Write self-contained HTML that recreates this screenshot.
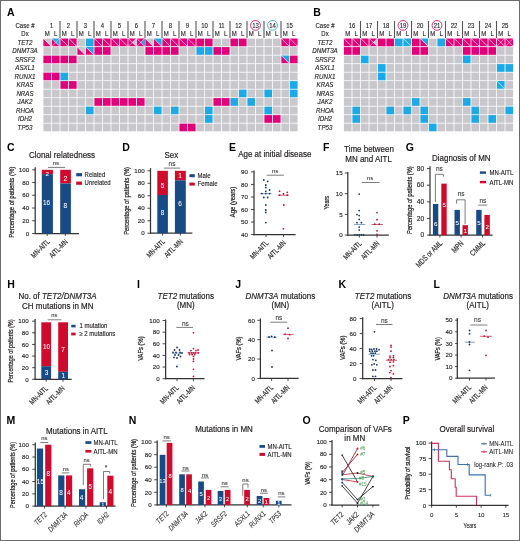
<!DOCTYPE html>
<html><head><meta charset="utf-8"><style>
html,body{margin:0;padding:0;background:#fff;}
svg{display:block;will-change:transform;}
text{font-family:"Liberation Sans",sans-serif;}
</style></head><body>
<svg width="520" height="541" viewBox="0 0 520 541">
<rect x="0" y="0" width="520" height="541" fill="#fff"/>
<g fill="#231f20">
<text transform="translate(7.00,15.60)" font-size="10.500" text-anchor="start" font-weight="bold" fill="#000">A</text>
<text transform="translate(25.00,27.70) scale(0.8696,1)" font-size="6.900" text-anchor="middle" stroke="#231f20" stroke-width="0.14">Case #</text>
<text transform="translate(25.00,36.30) scale(0.8696,1)" font-size="6.900" text-anchor="middle" stroke="#231f20" stroke-width="0.14">Dx</text>
<text transform="translate(25.00,44.80) scale(0.8696,1)" font-size="7.130" text-anchor="middle" font-style="italic" stroke="#231f20" stroke-width="0.14">TET2</text>
<text transform="translate(25.00,53.30) scale(0.8696,1)" font-size="7.130" text-anchor="middle" font-style="italic" stroke="#231f20" stroke-width="0.14">DNMT3A</text>
<text transform="translate(25.00,61.80) scale(0.8696,1)" font-size="7.130" text-anchor="middle" font-style="italic" stroke="#231f20" stroke-width="0.14">SRSF2</text>
<text transform="translate(25.00,70.30) scale(0.8696,1)" font-size="7.130" text-anchor="middle" font-style="italic" stroke="#231f20" stroke-width="0.14">ASXL1</text>
<text transform="translate(25.00,78.80) scale(0.8696,1)" font-size="7.130" text-anchor="middle" font-style="italic" stroke="#231f20" stroke-width="0.14">RUNX1</text>
<text transform="translate(25.00,87.30) scale(0.8696,1)" font-size="7.130" text-anchor="middle" font-style="italic" stroke="#231f20" stroke-width="0.14">KRAS</text>
<text transform="translate(25.00,95.80) scale(0.8696,1)" font-size="7.130" text-anchor="middle" font-style="italic" stroke="#231f20" stroke-width="0.14">NRAS</text>
<text transform="translate(25.00,104.30) scale(0.8696,1)" font-size="7.130" text-anchor="middle" font-style="italic" stroke="#231f20" stroke-width="0.14">JAK2</text>
<text transform="translate(25.00,112.80) scale(0.8696,1)" font-size="7.130" text-anchor="middle" font-style="italic" stroke="#231f20" stroke-width="0.14">RHOA</text>
<text transform="translate(25.00,121.30) scale(0.8696,1)" font-size="7.130" text-anchor="middle" font-style="italic" stroke="#231f20" stroke-width="0.14">IDH2</text>
<text transform="translate(25.00,129.80) scale(0.8696,1)" font-size="7.130" text-anchor="middle" font-style="italic" stroke="#231f20" stroke-width="0.14">TP53</text>
<text transform="translate(51.50,27.80) scale(0.8333,1)" font-size="7.200" text-anchor="middle" stroke="#231f20" stroke-width="0.14">1</text>
<text transform="translate(47.25,36.30) scale(0.9091,1)" font-size="6.600" text-anchor="middle" stroke="#231f20" stroke-width="0.14">M</text>
<text transform="translate(55.75,36.30) scale(0.9091,1)" font-size="6.600" text-anchor="middle" stroke="#231f20" stroke-width="0.14">L</text>
<line x1="60.00" y1="21.00" x2="60.00" y2="38.00" stroke="#555" stroke-width="1.1"/>
<text transform="translate(68.50,27.80) scale(0.8333,1)" font-size="7.200" text-anchor="middle" stroke="#231f20" stroke-width="0.14">2</text>
<text transform="translate(64.25,36.30) scale(0.9091,1)" font-size="6.600" text-anchor="middle" stroke="#231f20" stroke-width="0.14">M</text>
<text transform="translate(72.75,36.30) scale(0.9091,1)" font-size="6.600" text-anchor="middle" stroke="#231f20" stroke-width="0.14">L</text>
<line x1="77.00" y1="21.00" x2="77.00" y2="38.00" stroke="#555" stroke-width="1.1"/>
<text transform="translate(85.50,27.80) scale(0.8333,1)" font-size="7.200" text-anchor="middle" stroke="#231f20" stroke-width="0.14">3</text>
<text transform="translate(81.25,36.30) scale(0.9091,1)" font-size="6.600" text-anchor="middle" stroke="#231f20" stroke-width="0.14">M</text>
<text transform="translate(89.75,36.30) scale(0.9091,1)" font-size="6.600" text-anchor="middle" stroke="#231f20" stroke-width="0.14">L</text>
<line x1="94.00" y1="21.00" x2="94.00" y2="38.00" stroke="#555" stroke-width="1.1"/>
<text transform="translate(102.50,27.80) scale(0.8333,1)" font-size="7.200" text-anchor="middle" stroke="#231f20" stroke-width="0.14">4</text>
<text transform="translate(98.25,36.30) scale(0.9091,1)" font-size="6.600" text-anchor="middle" stroke="#231f20" stroke-width="0.14">M</text>
<text transform="translate(106.75,36.30) scale(0.9091,1)" font-size="6.600" text-anchor="middle" stroke="#231f20" stroke-width="0.14">L</text>
<line x1="111.00" y1="21.00" x2="111.00" y2="38.00" stroke="#555" stroke-width="1.1"/>
<text transform="translate(119.50,27.80) scale(0.8333,1)" font-size="7.200" text-anchor="middle" stroke="#231f20" stroke-width="0.14">5</text>
<text transform="translate(115.25,36.30) scale(0.9091,1)" font-size="6.600" text-anchor="middle" stroke="#231f20" stroke-width="0.14">M</text>
<text transform="translate(123.75,36.30) scale(0.9091,1)" font-size="6.600" text-anchor="middle" stroke="#231f20" stroke-width="0.14">L</text>
<line x1="128.00" y1="21.00" x2="128.00" y2="38.00" stroke="#555" stroke-width="1.1"/>
<text transform="translate(136.50,27.80) scale(0.8333,1)" font-size="7.200" text-anchor="middle" stroke="#231f20" stroke-width="0.14">6</text>
<text transform="translate(132.25,36.30) scale(0.9091,1)" font-size="6.600" text-anchor="middle" stroke="#231f20" stroke-width="0.14">M</text>
<text transform="translate(140.75,36.30) scale(0.9091,1)" font-size="6.600" text-anchor="middle" stroke="#231f20" stroke-width="0.14">L</text>
<line x1="145.00" y1="21.00" x2="145.00" y2="38.00" stroke="#555" stroke-width="1.1"/>
<text transform="translate(153.50,27.80) scale(0.8333,1)" font-size="7.200" text-anchor="middle" stroke="#231f20" stroke-width="0.14">7</text>
<text transform="translate(149.25,36.30) scale(0.9091,1)" font-size="6.600" text-anchor="middle" stroke="#231f20" stroke-width="0.14">M</text>
<text transform="translate(157.75,36.30) scale(0.9091,1)" font-size="6.600" text-anchor="middle" stroke="#231f20" stroke-width="0.14">L</text>
<line x1="162.00" y1="21.00" x2="162.00" y2="38.00" stroke="#555" stroke-width="1.1"/>
<text transform="translate(170.50,27.80) scale(0.8333,1)" font-size="7.200" text-anchor="middle" stroke="#231f20" stroke-width="0.14">8</text>
<text transform="translate(166.25,36.30) scale(0.9091,1)" font-size="6.600" text-anchor="middle" stroke="#231f20" stroke-width="0.14">M</text>
<text transform="translate(174.75,36.30) scale(0.9091,1)" font-size="6.600" text-anchor="middle" stroke="#231f20" stroke-width="0.14">L</text>
<line x1="179.00" y1="21.00" x2="179.00" y2="38.00" stroke="#555" stroke-width="1.1"/>
<text transform="translate(187.50,27.80) scale(0.8333,1)" font-size="7.200" text-anchor="middle" stroke="#231f20" stroke-width="0.14">9</text>
<text transform="translate(183.25,36.30) scale(0.9091,1)" font-size="6.600" text-anchor="middle" stroke="#231f20" stroke-width="0.14">M</text>
<text transform="translate(191.75,36.30) scale(0.9091,1)" font-size="6.600" text-anchor="middle" stroke="#231f20" stroke-width="0.14">L</text>
<line x1="196.00" y1="21.00" x2="196.00" y2="38.00" stroke="#555" stroke-width="1.1"/>
<text transform="translate(204.50,27.80) scale(0.8333,1)" font-size="7.200" text-anchor="middle" stroke="#231f20" stroke-width="0.14">10</text>
<text transform="translate(200.25,36.30) scale(0.9091,1)" font-size="6.600" text-anchor="middle" stroke="#231f20" stroke-width="0.14">M</text>
<text transform="translate(208.75,36.30) scale(0.9091,1)" font-size="6.600" text-anchor="middle" stroke="#231f20" stroke-width="0.14">L</text>
<line x1="213.00" y1="21.00" x2="213.00" y2="38.00" stroke="#555" stroke-width="1.1"/>
<text transform="translate(221.50,27.80) scale(0.8333,1)" font-size="7.200" text-anchor="middle" stroke="#231f20" stroke-width="0.14">11</text>
<text transform="translate(217.25,36.30) scale(0.9091,1)" font-size="6.600" text-anchor="middle" stroke="#231f20" stroke-width="0.14">M</text>
<text transform="translate(225.75,36.30) scale(0.9091,1)" font-size="6.600" text-anchor="middle" stroke="#231f20" stroke-width="0.14">L</text>
<line x1="230.00" y1="21.00" x2="230.00" y2="38.00" stroke="#555" stroke-width="1.1"/>
<text transform="translate(238.50,27.80) scale(0.8333,1)" font-size="7.200" text-anchor="middle" stroke="#231f20" stroke-width="0.14">12</text>
<text transform="translate(234.25,36.30) scale(0.9091,1)" font-size="6.600" text-anchor="middle" stroke="#231f20" stroke-width="0.14">M</text>
<text transform="translate(242.75,36.30) scale(0.9091,1)" font-size="6.600" text-anchor="middle" stroke="#231f20" stroke-width="0.14">L</text>
<line x1="247.00" y1="21.00" x2="247.00" y2="38.00" stroke="#555" stroke-width="1.1"/>
<circle cx="255.50" cy="25.4" r="4.9" fill="none" stroke="#d6186a" stroke-width="0.9"/>
<text transform="translate(255.50,27.80) scale(0.8333,1)" font-size="7.200" text-anchor="middle" stroke="#231f20" stroke-width="0.14">13</text>
<text transform="translate(251.25,36.30) scale(0.9091,1)" font-size="6.600" text-anchor="middle" stroke="#231f20" stroke-width="0.14">M</text>
<text transform="translate(259.75,36.30) scale(0.9091,1)" font-size="6.600" text-anchor="middle" stroke="#231f20" stroke-width="0.14">L</text>
<line x1="264.00" y1="21.00" x2="264.00" y2="38.00" stroke="#555" stroke-width="1.1"/>
<circle cx="272.50" cy="25.4" r="4.9" fill="none" stroke="#3aa9c9" stroke-width="0.9"/>
<text transform="translate(272.50,27.80) scale(0.8333,1)" font-size="7.200" text-anchor="middle" stroke="#231f20" stroke-width="0.14">14</text>
<text transform="translate(268.25,36.30) scale(0.9091,1)" font-size="6.600" text-anchor="middle" stroke="#231f20" stroke-width="0.14">M</text>
<text transform="translate(276.75,36.30) scale(0.9091,1)" font-size="6.600" text-anchor="middle" stroke="#231f20" stroke-width="0.14">L</text>
<line x1="281.00" y1="21.00" x2="281.00" y2="38.00" stroke="#555" stroke-width="1.1"/>
<text transform="translate(289.50,27.80) scale(0.8333,1)" font-size="7.200" text-anchor="middle" stroke="#231f20" stroke-width="0.14">15</text>
<text transform="translate(285.25,36.30) scale(0.9091,1)" font-size="6.600" text-anchor="middle" stroke="#231f20" stroke-width="0.14">M</text>
<text transform="translate(293.75,36.30) scale(0.9091,1)" font-size="6.600" text-anchor="middle" stroke="#231f20" stroke-width="0.14">L</text>
<polygon points="43.40,38.60 43.40,46.30 51.10,46.30" fill="#e0007a"/>
<polygon points="43.40,38.60 51.10,38.60 51.10,46.30" fill="#c8c8cc"/>
<line x1="43.40" y1="38.60" x2="51.10" y2="46.30" stroke="#fff" stroke-width="0.6" opacity="0.85"/>
<polygon points="51.90,38.60 51.90,46.30 59.60,46.30" fill="#e0007a"/>
<polygon points="51.90,38.60 59.60,38.60 59.60,46.30" fill="#1ca9e6"/>
<line x1="51.90" y1="38.60" x2="59.60" y2="46.30" stroke="#fff" stroke-width="0.6" opacity="0.85"/>
<line x1="51.90" y1="46.30" x2="59.60" y2="38.60" stroke="#fff" stroke-width="0.6" opacity="0.85"/>
<polygon points="60.40,38.60 60.40,46.30 68.10,46.30" fill="#e0007a"/>
<polygon points="60.40,38.60 68.10,38.60 68.10,46.30" fill="#e0007a"/>
<line x1="60.40" y1="38.60" x2="68.10" y2="46.30" stroke="#fff" stroke-width="0.6" opacity="0.85"/>
<polygon points="68.90,38.60 68.90,46.30 76.60,46.30" fill="#e0007a"/>
<polygon points="68.90,38.60 76.60,38.60 76.60,46.30" fill="#e0007a"/>
<line x1="68.90" y1="38.60" x2="76.60" y2="46.30" stroke="#fff" stroke-width="0.6" opacity="0.85"/>
<rect x="77.40" y="38.60" width="7.70" height="7.70" fill="#c8c8cc"/>
<rect x="85.90" y="38.60" width="7.70" height="7.70" fill="#1ca9e6"/>
<polygon points="94.40,38.60 94.40,46.30 102.10,46.30" fill="#e0007a"/>
<polygon points="94.40,38.60 102.10,38.60 102.10,46.30" fill="#e0007a"/>
<line x1="94.40" y1="38.60" x2="102.10" y2="46.30" stroke="#fff" stroke-width="0.6" opacity="0.85"/>
<polygon points="102.90,38.60 102.90,46.30 110.60,46.30" fill="#e0007a"/>
<polygon points="102.90,38.60 110.60,38.60 110.60,46.30" fill="#e0007a"/>
<line x1="102.90" y1="38.60" x2="110.60" y2="46.30" stroke="#fff" stroke-width="0.6" opacity="0.85"/>
<polygon points="111.40,38.60 111.40,46.30 119.10,46.30" fill="#e0007a"/>
<polygon points="111.40,38.60 119.10,38.60 119.10,46.30" fill="#e0007a"/>
<line x1="111.40" y1="38.60" x2="119.10" y2="46.30" stroke="#fff" stroke-width="0.6" opacity="0.85"/>
<polygon points="119.90,38.60 119.90,46.30 127.60,46.30" fill="#e0007a"/>
<polygon points="119.90,38.60 127.60,38.60 127.60,46.30" fill="#e0007a"/>
<line x1="119.90" y1="38.60" x2="127.60" y2="46.30" stroke="#fff" stroke-width="0.6" opacity="0.85"/>
<polygon points="128.40,38.60 128.40,46.30 136.10,46.30" fill="#e0007a"/>
<polygon points="128.40,38.60 136.10,38.60 136.10,46.30" fill="#e0007a"/>
<polygon points="136.10,38.60 136.10,46.30 132.25,42.45" fill="#c8c8cc"/>
<line x1="128.40" y1="38.60" x2="136.10" y2="46.30" stroke="#fff" stroke-width="0.6" opacity="0.85"/>
<line x1="128.40" y1="46.30" x2="136.10" y2="38.60" stroke="#fff" stroke-width="0.6" opacity="0.85"/>
<polygon points="136.90,38.60 136.90,46.30 144.60,46.30" fill="#e0007a"/>
<polygon points="136.90,38.60 144.60,38.60 144.60,46.30" fill="#e0007a"/>
<polygon points="144.60,38.60 144.60,46.30 140.75,42.45" fill="#1ca9e6"/>
<line x1="136.90" y1="38.60" x2="144.60" y2="46.30" stroke="#fff" stroke-width="0.6" opacity="0.85"/>
<line x1="136.90" y1="46.30" x2="144.60" y2="38.60" stroke="#fff" stroke-width="0.6" opacity="0.85"/>
<polygon points="145.40,38.60 145.40,46.30 153.10,46.30" fill="#e0007a"/>
<polygon points="145.40,38.60 153.10,38.60 153.10,46.30" fill="#c8c8cc"/>
<line x1="145.40" y1="38.60" x2="153.10" y2="46.30" stroke="#fff" stroke-width="0.6" opacity="0.85"/>
<polygon points="153.90,38.60 153.90,46.30 161.60,46.30" fill="#e0007a"/>
<polygon points="153.90,38.60 161.60,38.60 161.60,46.30" fill="#1ca9e6"/>
<line x1="153.90" y1="38.60" x2="161.60" y2="46.30" stroke="#fff" stroke-width="0.6" opacity="0.85"/>
<polygon points="162.40,38.60 162.40,46.30 170.10,46.30" fill="#e0007a"/>
<polygon points="162.40,38.60 170.10,38.60 170.10,46.30" fill="#e0007a"/>
<line x1="162.40" y1="38.60" x2="170.10" y2="46.30" stroke="#fff" stroke-width="0.6" opacity="0.85"/>
<polygon points="170.90,38.60 170.90,46.30 178.60,46.30" fill="#e0007a"/>
<polygon points="170.90,38.60 178.60,38.60 178.60,46.30" fill="#e0007a"/>
<line x1="170.90" y1="38.60" x2="178.60" y2="46.30" stroke="#fff" stroke-width="0.6" opacity="0.85"/>
<polygon points="179.40,38.60 179.40,46.30 187.10,46.30" fill="#e0007a"/>
<polygon points="179.40,38.60 187.10,38.60 187.10,46.30" fill="#e0007a"/>
<line x1="179.40" y1="38.60" x2="187.10" y2="46.30" stroke="#fff" stroke-width="0.6" opacity="0.85"/>
<polygon points="187.90,38.60 187.90,46.30 195.60,46.30" fill="#e0007a"/>
<polygon points="187.90,38.60 195.60,38.60 195.60,46.30" fill="#e0007a"/>
<line x1="187.90" y1="38.60" x2="195.60" y2="46.30" stroke="#fff" stroke-width="0.6" opacity="0.85"/>
<rect x="196.40" y="38.60" width="7.70" height="7.70" fill="#e0007a"/>
<rect x="204.90" y="38.60" width="7.70" height="7.70" fill="#e0007a"/>
<rect x="213.40" y="38.60" width="7.70" height="7.70" fill="#c8c8cc"/>
<rect x="221.90" y="38.60" width="7.70" height="7.70" fill="#c8c8cc"/>
<rect x="230.40" y="38.60" width="7.70" height="7.70" fill="#e0007a"/>
<rect x="238.90" y="38.60" width="7.70" height="7.70" fill="#e0007a"/>
<rect x="247.40" y="38.60" width="7.70" height="7.70" fill="#c8c8cc"/>
<rect x="255.90" y="38.60" width="7.70" height="7.70" fill="#c8c8cc"/>
<rect x="264.40" y="38.60" width="7.70" height="7.70" fill="#c8c8cc"/>
<rect x="272.90" y="38.60" width="7.70" height="7.70" fill="#c8c8cc"/>
<polygon points="281.40,38.60 281.40,46.30 289.10,46.30" fill="#e0007a"/>
<polygon points="281.40,38.60 289.10,38.60 289.10,46.30" fill="#e0007a"/>
<line x1="281.40" y1="38.60" x2="289.10" y2="46.30" stroke="#fff" stroke-width="0.6" opacity="0.85"/>
<polygon points="289.90,38.60 289.90,46.30 297.60,46.30" fill="#e0007a"/>
<polygon points="289.90,38.60 297.60,38.60 297.60,46.30" fill="#e0007a"/>
<line x1="289.90" y1="38.60" x2="297.60" y2="46.30" stroke="#fff" stroke-width="0.6" opacity="0.85"/>
<rect x="43.40" y="47.10" width="7.70" height="7.70" fill="#c8c8cc"/>
<rect x="51.90" y="47.10" width="7.70" height="7.70" fill="#c8c8cc"/>
<rect x="60.40" y="47.10" width="7.70" height="7.70" fill="#c8c8cc"/>
<rect x="68.90" y="47.10" width="7.70" height="7.70" fill="#c8c8cc"/>
<polygon points="77.40,47.10 77.40,54.80 85.10,54.80" fill="#e0007a"/>
<polygon points="77.40,47.10 85.10,47.10 85.10,54.80" fill="#c8c8cc"/>
<line x1="77.40" y1="47.10" x2="85.10" y2="54.80" stroke="#fff" stroke-width="0.6" opacity="0.85"/>
<polygon points="85.90,47.10 85.90,54.80 93.60,54.80" fill="#e0007a"/>
<polygon points="85.90,47.10 93.60,47.10 93.60,54.80" fill="#1ca9e6"/>
<line x1="85.90" y1="47.10" x2="93.60" y2="54.80" stroke="#fff" stroke-width="0.6" opacity="0.85"/>
<rect x="94.40" y="47.10" width="7.70" height="7.70" fill="#e0007a"/>
<rect x="102.90" y="47.10" width="7.70" height="7.70" fill="#e0007a"/>
<rect x="111.40" y="47.10" width="7.70" height="7.70" fill="#c8c8cc"/>
<rect x="119.90" y="47.10" width="7.70" height="7.70" fill="#c8c8cc"/>
<rect x="128.40" y="47.10" width="7.70" height="7.70" fill="#c8c8cc"/>
<rect x="136.90" y="47.10" width="7.70" height="7.70" fill="#c8c8cc"/>
<rect x="145.40" y="47.10" width="7.70" height="7.70" fill="#e0007a"/>
<rect x="153.90" y="47.10" width="7.70" height="7.70" fill="#e0007a"/>
<rect x="162.40" y="47.10" width="7.70" height="7.70" fill="#e0007a"/>
<rect x="170.90" y="47.10" width="7.70" height="7.70" fill="#e0007a"/>
<rect x="179.40" y="47.10" width="7.70" height="7.70" fill="#c8c8cc"/>
<rect x="187.90" y="47.10" width="7.70" height="7.70" fill="#c8c8cc"/>
<rect x="196.40" y="47.10" width="7.70" height="7.70" fill="#1ca9e6"/>
<rect x="204.90" y="47.10" width="7.70" height="7.70" fill="#1ca9e6"/>
<rect x="213.40" y="47.10" width="7.70" height="7.70" fill="#e0007a"/>
<rect x="221.90" y="47.10" width="7.70" height="7.70" fill="#e0007a"/>
<rect x="230.40" y="47.10" width="7.70" height="7.70" fill="#c8c8cc"/>
<rect x="238.90" y="47.10" width="7.70" height="7.70" fill="#c8c8cc"/>
<rect x="247.40" y="47.10" width="7.70" height="7.70" fill="#c8c8cc"/>
<rect x="255.90" y="47.10" width="7.70" height="7.70" fill="#c8c8cc"/>
<rect x="264.40" y="47.10" width="7.70" height="7.70" fill="#c8c8cc"/>
<rect x="272.90" y="47.10" width="7.70" height="7.70" fill="#c8c8cc"/>
<rect x="281.40" y="47.10" width="7.70" height="7.70" fill="#c8c8cc"/>
<rect x="289.90" y="47.10" width="7.70" height="7.70" fill="#c8c8cc"/>
<rect x="43.40" y="55.60" width="7.70" height="7.70" fill="#e0007a"/>
<rect x="51.90" y="55.60" width="7.70" height="7.70" fill="#e0007a"/>
<rect x="60.40" y="55.60" width="7.70" height="7.70" fill="#e0007a"/>
<rect x="68.90" y="55.60" width="7.70" height="7.70" fill="#e0007a"/>
<rect x="77.40" y="55.60" width="7.70" height="7.70" fill="#c8c8cc"/>
<rect x="85.90" y="55.60" width="7.70" height="7.70" fill="#c8c8cc"/>
<rect x="94.40" y="55.60" width="7.70" height="7.70" fill="#c8c8cc"/>
<rect x="102.90" y="55.60" width="7.70" height="7.70" fill="#c8c8cc"/>
<rect x="111.40" y="55.60" width="7.70" height="7.70" fill="#c8c8cc"/>
<rect x="119.90" y="55.60" width="7.70" height="7.70" fill="#c8c8cc"/>
<rect x="128.40" y="55.60" width="7.70" height="7.70" fill="#c8c8cc"/>
<rect x="136.90" y="55.60" width="7.70" height="7.70" fill="#c8c8cc"/>
<rect x="145.40" y="55.60" width="7.70" height="7.70" fill="#c8c8cc"/>
<rect x="153.90" y="55.60" width="7.70" height="7.70" fill="#c8c8cc"/>
<rect x="162.40" y="55.60" width="7.70" height="7.70" fill="#c8c8cc"/>
<rect x="170.90" y="55.60" width="7.70" height="7.70" fill="#c8c8cc"/>
<rect x="179.40" y="55.60" width="7.70" height="7.70" fill="#c8c8cc"/>
<rect x="187.90" y="55.60" width="7.70" height="7.70" fill="#c8c8cc"/>
<rect x="196.40" y="55.60" width="7.70" height="7.70" fill="#c8c8cc"/>
<rect x="204.90" y="55.60" width="7.70" height="7.70" fill="#c8c8cc"/>
<rect x="213.40" y="55.60" width="7.70" height="7.70" fill="#c8c8cc"/>
<rect x="221.90" y="55.60" width="7.70" height="7.70" fill="#c8c8cc"/>
<rect x="230.40" y="55.60" width="7.70" height="7.70" fill="#c8c8cc"/>
<rect x="238.90" y="55.60" width="7.70" height="7.70" fill="#c8c8cc"/>
<rect x="247.40" y="55.60" width="7.70" height="7.70" fill="#c8c8cc"/>
<rect x="255.90" y="55.60" width="7.70" height="7.70" fill="#c8c8cc"/>
<rect x="264.40" y="55.60" width="7.70" height="7.70" fill="#c8c8cc"/>
<rect x="272.90" y="55.60" width="7.70" height="7.70" fill="#c8c8cc"/>
<polygon points="281.40,55.60 281.40,63.30 289.10,63.30" fill="#e0007a"/>
<polygon points="281.40,55.60 289.10,55.60 289.10,63.30" fill="#1ca9e6"/>
<line x1="281.40" y1="55.60" x2="289.10" y2="63.30" stroke="#fff" stroke-width="0.6" opacity="0.85"/>
<rect x="289.90" y="55.60" width="7.70" height="7.70" fill="#e0007a"/>
<rect x="43.40" y="64.10" width="7.70" height="7.70" fill="#c8c8cc"/>
<rect x="51.90" y="64.10" width="7.70" height="7.70" fill="#c8c8cc"/>
<rect x="60.40" y="64.10" width="7.70" height="7.70" fill="#c8c8cc"/>
<rect x="68.90" y="64.10" width="7.70" height="7.70" fill="#c8c8cc"/>
<rect x="77.40" y="64.10" width="7.70" height="7.70" fill="#c8c8cc"/>
<rect x="85.90" y="64.10" width="7.70" height="7.70" fill="#c8c8cc"/>
<rect x="94.40" y="64.10" width="7.70" height="7.70" fill="#c8c8cc"/>
<rect x="102.90" y="64.10" width="7.70" height="7.70" fill="#c8c8cc"/>
<rect x="111.40" y="64.10" width="7.70" height="7.70" fill="#c8c8cc"/>
<rect x="119.90" y="64.10" width="7.70" height="7.70" fill="#c8c8cc"/>
<rect x="128.40" y="64.10" width="7.70" height="7.70" fill="#c8c8cc"/>
<rect x="136.90" y="64.10" width="7.70" height="7.70" fill="#c8c8cc"/>
<rect x="145.40" y="64.10" width="7.70" height="7.70" fill="#c8c8cc"/>
<rect x="153.90" y="64.10" width="7.70" height="7.70" fill="#c8c8cc"/>
<rect x="162.40" y="64.10" width="7.70" height="7.70" fill="#c8c8cc"/>
<rect x="170.90" y="64.10" width="7.70" height="7.70" fill="#c8c8cc"/>
<rect x="179.40" y="64.10" width="7.70" height="7.70" fill="#c8c8cc"/>
<rect x="187.90" y="64.10" width="7.70" height="7.70" fill="#c8c8cc"/>
<rect x="196.40" y="64.10" width="7.70" height="7.70" fill="#c8c8cc"/>
<rect x="204.90" y="64.10" width="7.70" height="7.70" fill="#c8c8cc"/>
<rect x="213.40" y="64.10" width="7.70" height="7.70" fill="#c8c8cc"/>
<rect x="221.90" y="64.10" width="7.70" height="7.70" fill="#c8c8cc"/>
<rect x="230.40" y="64.10" width="7.70" height="7.70" fill="#c8c8cc"/>
<rect x="238.90" y="64.10" width="7.70" height="7.70" fill="#c8c8cc"/>
<rect x="247.40" y="64.10" width="7.70" height="7.70" fill="#c8c8cc"/>
<rect x="255.90" y="64.10" width="7.70" height="7.70" fill="#c8c8cc"/>
<rect x="264.40" y="64.10" width="7.70" height="7.70" fill="#c8c8cc"/>
<rect x="272.90" y="64.10" width="7.70" height="7.70" fill="#c8c8cc"/>
<rect x="281.40" y="64.10" width="7.70" height="7.70" fill="#c8c8cc"/>
<rect x="289.90" y="64.10" width="7.70" height="7.70" fill="#c8c8cc"/>
<rect x="43.40" y="72.60" width="7.70" height="7.70" fill="#e0007a"/>
<rect x="51.90" y="72.60" width="7.70" height="7.70" fill="#e0007a"/>
<rect x="60.40" y="72.60" width="7.70" height="7.70" fill="#1ca9e6"/>
<rect x="68.90" y="72.60" width="7.70" height="7.70" fill="#c8c8cc"/>
<rect x="77.40" y="72.60" width="7.70" height="7.70" fill="#c8c8cc"/>
<rect x="85.90" y="72.60" width="7.70" height="7.70" fill="#c8c8cc"/>
<rect x="94.40" y="72.60" width="7.70" height="7.70" fill="#c8c8cc"/>
<rect x="102.90" y="72.60" width="7.70" height="7.70" fill="#c8c8cc"/>
<rect x="111.40" y="72.60" width="7.70" height="7.70" fill="#c8c8cc"/>
<rect x="119.90" y="72.60" width="7.70" height="7.70" fill="#c8c8cc"/>
<rect x="128.40" y="72.60" width="7.70" height="7.70" fill="#c8c8cc"/>
<rect x="136.90" y="72.60" width="7.70" height="7.70" fill="#c8c8cc"/>
<rect x="145.40" y="72.60" width="7.70" height="7.70" fill="#c8c8cc"/>
<rect x="153.90" y="72.60" width="7.70" height="7.70" fill="#c8c8cc"/>
<rect x="162.40" y="72.60" width="7.70" height="7.70" fill="#c8c8cc"/>
<rect x="170.90" y="72.60" width="7.70" height="7.70" fill="#c8c8cc"/>
<rect x="179.40" y="72.60" width="7.70" height="7.70" fill="#c8c8cc"/>
<rect x="187.90" y="72.60" width="7.70" height="7.70" fill="#c8c8cc"/>
<rect x="196.40" y="72.60" width="7.70" height="7.70" fill="#c8c8cc"/>
<rect x="204.90" y="72.60" width="7.70" height="7.70" fill="#c8c8cc"/>
<rect x="213.40" y="72.60" width="7.70" height="7.70" fill="#c8c8cc"/>
<rect x="221.90" y="72.60" width="7.70" height="7.70" fill="#c8c8cc"/>
<rect x="230.40" y="72.60" width="7.70" height="7.70" fill="#c8c8cc"/>
<rect x="238.90" y="72.60" width="7.70" height="7.70" fill="#c8c8cc"/>
<rect x="247.40" y="72.60" width="7.70" height="7.70" fill="#c8c8cc"/>
<rect x="255.90" y="72.60" width="7.70" height="7.70" fill="#c8c8cc"/>
<rect x="264.40" y="72.60" width="7.70" height="7.70" fill="#c8c8cc"/>
<rect x="272.90" y="72.60" width="7.70" height="7.70" fill="#c8c8cc"/>
<rect x="281.40" y="72.60" width="7.70" height="7.70" fill="#c8c8cc"/>
<rect x="289.90" y="72.60" width="7.70" height="7.70" fill="#c8c8cc"/>
<rect x="43.40" y="81.10" width="7.70" height="7.70" fill="#c8c8cc"/>
<rect x="51.90" y="81.10" width="7.70" height="7.70" fill="#c8c8cc"/>
<rect x="60.40" y="81.10" width="7.70" height="7.70" fill="#e0007a"/>
<rect x="68.90" y="81.10" width="7.70" height="7.70" fill="#e0007a"/>
<rect x="77.40" y="81.10" width="7.70" height="7.70" fill="#c8c8cc"/>
<rect x="85.90" y="81.10" width="7.70" height="7.70" fill="#c8c8cc"/>
<rect x="94.40" y="81.10" width="7.70" height="7.70" fill="#c8c8cc"/>
<rect x="102.90" y="81.10" width="7.70" height="7.70" fill="#c8c8cc"/>
<rect x="111.40" y="81.10" width="7.70" height="7.70" fill="#c8c8cc"/>
<rect x="119.90" y="81.10" width="7.70" height="7.70" fill="#c8c8cc"/>
<rect x="128.40" y="81.10" width="7.70" height="7.70" fill="#c8c8cc"/>
<rect x="136.90" y="81.10" width="7.70" height="7.70" fill="#c8c8cc"/>
<rect x="145.40" y="81.10" width="7.70" height="7.70" fill="#c8c8cc"/>
<rect x="153.90" y="81.10" width="7.70" height="7.70" fill="#c8c8cc"/>
<rect x="162.40" y="81.10" width="7.70" height="7.70" fill="#c8c8cc"/>
<rect x="170.90" y="81.10" width="7.70" height="7.70" fill="#c8c8cc"/>
<rect x="179.40" y="81.10" width="7.70" height="7.70" fill="#c8c8cc"/>
<rect x="187.90" y="81.10" width="7.70" height="7.70" fill="#c8c8cc"/>
<rect x="196.40" y="81.10" width="7.70" height="7.70" fill="#c8c8cc"/>
<rect x="204.90" y="81.10" width="7.70" height="7.70" fill="#c8c8cc"/>
<rect x="213.40" y="81.10" width="7.70" height="7.70" fill="#c8c8cc"/>
<rect x="221.90" y="81.10" width="7.70" height="7.70" fill="#c8c8cc"/>
<rect x="230.40" y="81.10" width="7.70" height="7.70" fill="#c8c8cc"/>
<rect x="238.90" y="81.10" width="7.70" height="7.70" fill="#c8c8cc"/>
<rect x="247.40" y="81.10" width="7.70" height="7.70" fill="#c8c8cc"/>
<rect x="255.90" y="81.10" width="7.70" height="7.70" fill="#c8c8cc"/>
<rect x="264.40" y="81.10" width="7.70" height="7.70" fill="#c8c8cc"/>
<rect x="272.90" y="81.10" width="7.70" height="7.70" fill="#c8c8cc"/>
<rect x="281.40" y="81.10" width="7.70" height="7.70" fill="#c8c8cc"/>
<rect x="289.90" y="81.10" width="7.70" height="7.70" fill="#1ca9e6"/>
<rect x="43.40" y="89.60" width="7.70" height="7.70" fill="#c8c8cc"/>
<rect x="51.90" y="89.60" width="7.70" height="7.70" fill="#c8c8cc"/>
<rect x="60.40" y="89.60" width="7.70" height="7.70" fill="#c8c8cc"/>
<rect x="68.90" y="89.60" width="7.70" height="7.70" fill="#c8c8cc"/>
<rect x="77.40" y="89.60" width="7.70" height="7.70" fill="#c8c8cc"/>
<rect x="85.90" y="89.60" width="7.70" height="7.70" fill="#c8c8cc"/>
<rect x="94.40" y="89.60" width="7.70" height="7.70" fill="#c8c8cc"/>
<rect x="102.90" y="89.60" width="7.70" height="7.70" fill="#c8c8cc"/>
<rect x="111.40" y="89.60" width="7.70" height="7.70" fill="#c8c8cc"/>
<rect x="119.90" y="89.60" width="7.70" height="7.70" fill="#c8c8cc"/>
<rect x="128.40" y="89.60" width="7.70" height="7.70" fill="#c8c8cc"/>
<rect x="136.90" y="89.60" width="7.70" height="7.70" fill="#c8c8cc"/>
<rect x="145.40" y="89.60" width="7.70" height="7.70" fill="#c8c8cc"/>
<rect x="153.90" y="89.60" width="7.70" height="7.70" fill="#c8c8cc"/>
<rect x="162.40" y="89.60" width="7.70" height="7.70" fill="#c8c8cc"/>
<rect x="170.90" y="89.60" width="7.70" height="7.70" fill="#c8c8cc"/>
<rect x="179.40" y="89.60" width="7.70" height="7.70" fill="#c8c8cc"/>
<rect x="187.90" y="89.60" width="7.70" height="7.70" fill="#c8c8cc"/>
<rect x="196.40" y="89.60" width="7.70" height="7.70" fill="#c8c8cc"/>
<rect x="204.90" y="89.60" width="7.70" height="7.70" fill="#c8c8cc"/>
<rect x="213.40" y="89.60" width="7.70" height="7.70" fill="#c8c8cc"/>
<rect x="221.90" y="89.60" width="7.70" height="7.70" fill="#c8c8cc"/>
<rect x="230.40" y="89.60" width="7.70" height="7.70" fill="#c8c8cc"/>
<rect x="238.90" y="89.60" width="7.70" height="7.70" fill="#1ca9e6"/>
<rect x="247.40" y="89.60" width="7.70" height="7.70" fill="#c8c8cc"/>
<rect x="255.90" y="89.60" width="7.70" height="7.70" fill="#c8c8cc"/>
<rect x="264.40" y="89.60" width="7.70" height="7.70" fill="#1ca9e6"/>
<rect x="272.90" y="89.60" width="7.70" height="7.70" fill="#c8c8cc"/>
<rect x="281.40" y="89.60" width="7.70" height="7.70" fill="#c8c8cc"/>
<rect x="289.90" y="89.60" width="7.70" height="7.70" fill="#1ca9e6"/>
<rect x="43.40" y="98.10" width="7.70" height="7.70" fill="#c8c8cc"/>
<rect x="51.90" y="98.10" width="7.70" height="7.70" fill="#c8c8cc"/>
<rect x="60.40" y="98.10" width="7.70" height="7.70" fill="#c8c8cc"/>
<rect x="68.90" y="98.10" width="7.70" height="7.70" fill="#c8c8cc"/>
<rect x="77.40" y="98.10" width="7.70" height="7.70" fill="#c8c8cc"/>
<rect x="85.90" y="98.10" width="7.70" height="7.70" fill="#c8c8cc"/>
<rect x="94.40" y="98.10" width="7.70" height="7.70" fill="#e0007a"/>
<rect x="102.90" y="98.10" width="7.70" height="7.70" fill="#e0007a"/>
<rect x="111.40" y="98.10" width="7.70" height="7.70" fill="#e0007a"/>
<rect x="119.90" y="98.10" width="7.70" height="7.70" fill="#e0007a"/>
<rect x="128.40" y="98.10" width="7.70" height="7.70" fill="#e0007a"/>
<rect x="136.90" y="98.10" width="7.70" height="7.70" fill="#e0007a"/>
<rect x="145.40" y="98.10" width="7.70" height="7.70" fill="#c8c8cc"/>
<rect x="153.90" y="98.10" width="7.70" height="7.70" fill="#c8c8cc"/>
<rect x="162.40" y="98.10" width="7.70" height="7.70" fill="#c8c8cc"/>
<rect x="170.90" y="98.10" width="7.70" height="7.70" fill="#c8c8cc"/>
<rect x="179.40" y="98.10" width="7.70" height="7.70" fill="#c8c8cc"/>
<rect x="187.90" y="98.10" width="7.70" height="7.70" fill="#c8c8cc"/>
<rect x="196.40" y="98.10" width="7.70" height="7.70" fill="#c8c8cc"/>
<rect x="204.90" y="98.10" width="7.70" height="7.70" fill="#c8c8cc"/>
<rect x="213.40" y="98.10" width="7.70" height="7.70" fill="#e0007a"/>
<rect x="221.90" y="98.10" width="7.70" height="7.70" fill="#e0007a"/>
<rect x="230.40" y="98.10" width="7.70" height="7.70" fill="#1ca9e6"/>
<rect x="238.90" y="98.10" width="7.70" height="7.70" fill="#c8c8cc"/>
<rect x="247.40" y="98.10" width="7.70" height="7.70" fill="#1ca9e6"/>
<rect x="255.90" y="98.10" width="7.70" height="7.70" fill="#c8c8cc"/>
<rect x="264.40" y="98.10" width="7.70" height="7.70" fill="#c8c8cc"/>
<rect x="272.90" y="98.10" width="7.70" height="7.70" fill="#c8c8cc"/>
<rect x="281.40" y="98.10" width="7.70" height="7.70" fill="#c8c8cc"/>
<rect x="289.90" y="98.10" width="7.70" height="7.70" fill="#c8c8cc"/>
<rect x="43.40" y="106.60" width="7.70" height="7.70" fill="#c8c8cc"/>
<rect x="51.90" y="106.60" width="7.70" height="7.70" fill="#c8c8cc"/>
<rect x="60.40" y="106.60" width="7.70" height="7.70" fill="#c8c8cc"/>
<rect x="68.90" y="106.60" width="7.70" height="7.70" fill="#c8c8cc"/>
<rect x="77.40" y="106.60" width="7.70" height="7.70" fill="#c8c8cc"/>
<rect x="85.90" y="106.60" width="7.70" height="7.70" fill="#1ca9e6"/>
<rect x="94.40" y="106.60" width="7.70" height="7.70" fill="#c8c8cc"/>
<rect x="102.90" y="106.60" width="7.70" height="7.70" fill="#c8c8cc"/>
<rect x="111.40" y="106.60" width="7.70" height="7.70" fill="#c8c8cc"/>
<rect x="119.90" y="106.60" width="7.70" height="7.70" fill="#c8c8cc"/>
<rect x="128.40" y="106.60" width="7.70" height="7.70" fill="#c8c8cc"/>
<rect x="136.90" y="106.60" width="7.70" height="7.70" fill="#c8c8cc"/>
<rect x="145.40" y="106.60" width="7.70" height="7.70" fill="#c8c8cc"/>
<rect x="153.90" y="106.60" width="7.70" height="7.70" fill="#1ca9e6"/>
<rect x="162.40" y="106.60" width="7.70" height="7.70" fill="#c8c8cc"/>
<rect x="170.90" y="106.60" width="7.70" height="7.70" fill="#1ca9e6"/>
<rect x="179.40" y="106.60" width="7.70" height="7.70" fill="#c8c8cc"/>
<rect x="187.90" y="106.60" width="7.70" height="7.70" fill="#c8c8cc"/>
<rect x="196.40" y="106.60" width="7.70" height="7.70" fill="#c8c8cc"/>
<rect x="204.90" y="106.60" width="7.70" height="7.70" fill="#1ca9e6"/>
<rect x="213.40" y="106.60" width="7.70" height="7.70" fill="#c8c8cc"/>
<rect x="221.90" y="106.60" width="7.70" height="7.70" fill="#c8c8cc"/>
<rect x="230.40" y="106.60" width="7.70" height="7.70" fill="#c8c8cc"/>
<rect x="238.90" y="106.60" width="7.70" height="7.70" fill="#c8c8cc"/>
<rect x="247.40" y="106.60" width="7.70" height="7.70" fill="#c8c8cc"/>
<rect x="255.90" y="106.60" width="7.70" height="7.70" fill="#c8c8cc"/>
<rect x="264.40" y="106.60" width="7.70" height="7.70" fill="#1ca9e6"/>
<rect x="272.90" y="106.60" width="7.70" height="7.70" fill="#c8c8cc"/>
<rect x="281.40" y="106.60" width="7.70" height="7.70" fill="#c8c8cc"/>
<rect x="289.90" y="106.60" width="7.70" height="7.70" fill="#c8c8cc"/>
<rect x="43.40" y="115.10" width="7.70" height="7.70" fill="#c8c8cc"/>
<rect x="51.90" y="115.10" width="7.70" height="7.70" fill="#c8c8cc"/>
<rect x="60.40" y="115.10" width="7.70" height="7.70" fill="#c8c8cc"/>
<rect x="68.90" y="115.10" width="7.70" height="7.70" fill="#c8c8cc"/>
<rect x="77.40" y="115.10" width="7.70" height="7.70" fill="#c8c8cc"/>
<rect x="85.90" y="115.10" width="7.70" height="7.70" fill="#c8c8cc"/>
<rect x="94.40" y="115.10" width="7.70" height="7.70" fill="#c8c8cc"/>
<rect x="102.90" y="115.10" width="7.70" height="7.70" fill="#c8c8cc"/>
<rect x="111.40" y="115.10" width="7.70" height="7.70" fill="#c8c8cc"/>
<rect x="119.90" y="115.10" width="7.70" height="7.70" fill="#c8c8cc"/>
<rect x="128.40" y="115.10" width="7.70" height="7.70" fill="#c8c8cc"/>
<rect x="136.90" y="115.10" width="7.70" height="7.70" fill="#c8c8cc"/>
<rect x="145.40" y="115.10" width="7.70" height="7.70" fill="#c8c8cc"/>
<rect x="153.90" y="115.10" width="7.70" height="7.70" fill="#c8c8cc"/>
<rect x="162.40" y="115.10" width="7.70" height="7.70" fill="#c8c8cc"/>
<rect x="170.90" y="115.10" width="7.70" height="7.70" fill="#c8c8cc"/>
<rect x="179.40" y="115.10" width="7.70" height="7.70" fill="#c8c8cc"/>
<rect x="187.90" y="115.10" width="7.70" height="7.70" fill="#c8c8cc"/>
<rect x="196.40" y="115.10" width="7.70" height="7.70" fill="#c8c8cc"/>
<rect x="204.90" y="115.10" width="7.70" height="7.70" fill="#1ca9e6"/>
<rect x="213.40" y="115.10" width="7.70" height="7.70" fill="#c8c8cc"/>
<rect x="221.90" y="115.10" width="7.70" height="7.70" fill="#c8c8cc"/>
<rect x="230.40" y="115.10" width="7.70" height="7.70" fill="#c8c8cc"/>
<rect x="238.90" y="115.10" width="7.70" height="7.70" fill="#c8c8cc"/>
<rect x="247.40" y="115.10" width="7.70" height="7.70" fill="#c8c8cc"/>
<rect x="255.90" y="115.10" width="7.70" height="7.70" fill="#c8c8cc"/>
<rect x="264.40" y="115.10" width="7.70" height="7.70" fill="#e0007a"/>
<rect x="272.90" y="115.10" width="7.70" height="7.70" fill="#e0007a"/>
<rect x="281.40" y="115.10" width="7.70" height="7.70" fill="#c8c8cc"/>
<rect x="289.90" y="115.10" width="7.70" height="7.70" fill="#c8c8cc"/>
<rect x="43.40" y="123.60" width="7.70" height="7.70" fill="#c8c8cc"/>
<rect x="51.90" y="123.60" width="7.70" height="7.70" fill="#c8c8cc"/>
<rect x="60.40" y="123.60" width="7.70" height="7.70" fill="#c8c8cc"/>
<rect x="68.90" y="123.60" width="7.70" height="7.70" fill="#c8c8cc"/>
<rect x="77.40" y="123.60" width="7.70" height="7.70" fill="#c8c8cc"/>
<rect x="85.90" y="123.60" width="7.70" height="7.70" fill="#c8c8cc"/>
<rect x="94.40" y="123.60" width="7.70" height="7.70" fill="#c8c8cc"/>
<rect x="102.90" y="123.60" width="7.70" height="7.70" fill="#c8c8cc"/>
<rect x="111.40" y="123.60" width="7.70" height="7.70" fill="#c8c8cc"/>
<rect x="119.90" y="123.60" width="7.70" height="7.70" fill="#c8c8cc"/>
<rect x="128.40" y="123.60" width="7.70" height="7.70" fill="#c8c8cc"/>
<rect x="136.90" y="123.60" width="7.70" height="7.70" fill="#c8c8cc"/>
<rect x="145.40" y="123.60" width="7.70" height="7.70" fill="#c8c8cc"/>
<rect x="153.90" y="123.60" width="7.70" height="7.70" fill="#c8c8cc"/>
<rect x="162.40" y="123.60" width="7.70" height="7.70" fill="#c8c8cc"/>
<rect x="170.90" y="123.60" width="7.70" height="7.70" fill="#c8c8cc"/>
<rect x="179.40" y="123.60" width="7.70" height="7.70" fill="#e0007a"/>
<rect x="187.90" y="123.60" width="7.70" height="7.70" fill="#e0007a"/>
<rect x="196.40" y="123.60" width="7.70" height="7.70" fill="#c8c8cc"/>
<rect x="204.90" y="123.60" width="7.70" height="7.70" fill="#c8c8cc"/>
<rect x="213.40" y="123.60" width="7.70" height="7.70" fill="#c8c8cc"/>
<rect x="221.90" y="123.60" width="7.70" height="7.70" fill="#c8c8cc"/>
<rect x="230.40" y="123.60" width="7.70" height="7.70" fill="#c8c8cc"/>
<rect x="238.90" y="123.60" width="7.70" height="7.70" fill="#c8c8cc"/>
<rect x="247.40" y="123.60" width="7.70" height="7.70" fill="#c8c8cc"/>
<rect x="255.90" y="123.60" width="7.70" height="7.70" fill="#c8c8cc"/>
<rect x="264.40" y="123.60" width="7.70" height="7.70" fill="#c8c8cc"/>
<rect x="272.90" y="123.60" width="7.70" height="7.70" fill="#c8c8cc"/>
<rect x="281.40" y="123.60" width="7.70" height="7.70" fill="#c8c8cc"/>
<rect x="289.90" y="123.60" width="7.70" height="7.70" fill="#c8c8cc"/>
<text transform="translate(313.30,15.60)" font-size="10.500" text-anchor="start" font-weight="bold" fill="#000">B</text>
<text transform="translate(325.00,27.70) scale(0.8696,1)" font-size="6.900" text-anchor="middle" stroke="#231f20" stroke-width="0.14">Case #</text>
<text transform="translate(325.00,36.30) scale(0.8696,1)" font-size="6.900" text-anchor="middle" stroke="#231f20" stroke-width="0.14">Dx</text>
<text transform="translate(325.00,44.80) scale(0.8696,1)" font-size="7.130" text-anchor="middle" font-style="italic" stroke="#231f20" stroke-width="0.14">TET2</text>
<text transform="translate(325.00,53.30) scale(0.8696,1)" font-size="7.130" text-anchor="middle" font-style="italic" stroke="#231f20" stroke-width="0.14">DNMT3A</text>
<text transform="translate(325.00,61.80) scale(0.8696,1)" font-size="7.130" text-anchor="middle" font-style="italic" stroke="#231f20" stroke-width="0.14">SRSF2</text>
<text transform="translate(325.00,70.30) scale(0.8696,1)" font-size="7.130" text-anchor="middle" font-style="italic" stroke="#231f20" stroke-width="0.14">ASXL1</text>
<text transform="translate(325.00,78.80) scale(0.8696,1)" font-size="7.130" text-anchor="middle" font-style="italic" stroke="#231f20" stroke-width="0.14">RUNX1</text>
<text transform="translate(325.00,87.30) scale(0.8696,1)" font-size="7.130" text-anchor="middle" font-style="italic" stroke="#231f20" stroke-width="0.14">KRAS</text>
<text transform="translate(325.00,95.80) scale(0.8696,1)" font-size="7.130" text-anchor="middle" font-style="italic" stroke="#231f20" stroke-width="0.14">NRAS</text>
<text transform="translate(325.00,104.30) scale(0.8696,1)" font-size="7.130" text-anchor="middle" font-style="italic" stroke="#231f20" stroke-width="0.14">JAK2</text>
<text transform="translate(325.00,112.80) scale(0.8696,1)" font-size="7.130" text-anchor="middle" font-style="italic" stroke="#231f20" stroke-width="0.14">RHOA</text>
<text transform="translate(325.00,121.30) scale(0.8696,1)" font-size="7.130" text-anchor="middle" font-style="italic" stroke="#231f20" stroke-width="0.14">IDH2</text>
<text transform="translate(325.00,129.80) scale(0.8696,1)" font-size="7.130" text-anchor="middle" font-style="italic" stroke="#231f20" stroke-width="0.14">TP53</text>
<text transform="translate(352.00,27.80) scale(0.8333,1)" font-size="7.200" text-anchor="middle" stroke="#231f20" stroke-width="0.14">16</text>
<text transform="translate(347.75,36.30) scale(0.9091,1)" font-size="6.600" text-anchor="middle" stroke="#231f20" stroke-width="0.14">M</text>
<text transform="translate(356.25,36.30) scale(0.9091,1)" font-size="6.600" text-anchor="middle" stroke="#231f20" stroke-width="0.14">L</text>
<line x1="360.50" y1="21.00" x2="360.50" y2="38.00" stroke="#555" stroke-width="1.1"/>
<text transform="translate(369.00,27.80) scale(0.8333,1)" font-size="7.200" text-anchor="middle" stroke="#231f20" stroke-width="0.14">17</text>
<text transform="translate(364.75,36.30) scale(0.9091,1)" font-size="6.600" text-anchor="middle" stroke="#231f20" stroke-width="0.14">M</text>
<text transform="translate(373.25,36.30) scale(0.9091,1)" font-size="6.600" text-anchor="middle" stroke="#231f20" stroke-width="0.14">L</text>
<line x1="377.50" y1="21.00" x2="377.50" y2="38.00" stroke="#555" stroke-width="1.1"/>
<text transform="translate(386.00,27.80) scale(0.8333,1)" font-size="7.200" text-anchor="middle" stroke="#231f20" stroke-width="0.14">18</text>
<text transform="translate(381.75,36.30) scale(0.9091,1)" font-size="6.600" text-anchor="middle" stroke="#231f20" stroke-width="0.14">M</text>
<text transform="translate(390.25,36.30) scale(0.9091,1)" font-size="6.600" text-anchor="middle" stroke="#231f20" stroke-width="0.14">L</text>
<line x1="394.50" y1="21.00" x2="394.50" y2="38.00" stroke="#555" stroke-width="1.1"/>
<circle cx="403.00" cy="25.4" r="4.9" fill="none" stroke="#d6186a" stroke-width="0.9"/>
<text transform="translate(403.00,27.80) scale(0.8333,1)" font-size="7.200" text-anchor="middle" stroke="#231f20" stroke-width="0.14">19</text>
<text transform="translate(398.75,36.30) scale(0.9091,1)" font-size="6.600" text-anchor="middle" stroke="#231f20" stroke-width="0.14">M</text>
<text transform="translate(407.25,36.30) scale(0.9091,1)" font-size="6.600" text-anchor="middle" stroke="#231f20" stroke-width="0.14">L</text>
<line x1="411.50" y1="21.00" x2="411.50" y2="38.00" stroke="#555" stroke-width="1.1"/>
<text transform="translate(420.00,27.80) scale(0.8333,1)" font-size="7.200" text-anchor="middle" stroke="#231f20" stroke-width="0.14">20</text>
<text transform="translate(415.75,36.30) scale(0.9091,1)" font-size="6.600" text-anchor="middle" stroke="#231f20" stroke-width="0.14">M</text>
<text transform="translate(424.25,36.30) scale(0.9091,1)" font-size="6.600" text-anchor="middle" stroke="#231f20" stroke-width="0.14">L</text>
<line x1="428.50" y1="21.00" x2="428.50" y2="38.00" stroke="#555" stroke-width="1.1"/>
<circle cx="437.00" cy="25.4" r="4.9" fill="none" stroke="#d6186a" stroke-width="0.9"/>
<text transform="translate(437.00,27.80) scale(0.8333,1)" font-size="7.200" text-anchor="middle" stroke="#231f20" stroke-width="0.14">21</text>
<text transform="translate(432.75,36.30) scale(0.9091,1)" font-size="6.600" text-anchor="middle" stroke="#231f20" stroke-width="0.14">M</text>
<text transform="translate(441.25,36.30) scale(0.9091,1)" font-size="6.600" text-anchor="middle" stroke="#231f20" stroke-width="0.14">L</text>
<line x1="445.50" y1="21.00" x2="445.50" y2="38.00" stroke="#555" stroke-width="1.1"/>
<text transform="translate(454.00,27.80) scale(0.8333,1)" font-size="7.200" text-anchor="middle" stroke="#231f20" stroke-width="0.14">22</text>
<text transform="translate(449.75,36.30) scale(0.9091,1)" font-size="6.600" text-anchor="middle" stroke="#231f20" stroke-width="0.14">M</text>
<text transform="translate(458.25,36.30) scale(0.9091,1)" font-size="6.600" text-anchor="middle" stroke="#231f20" stroke-width="0.14">L</text>
<line x1="462.50" y1="21.00" x2="462.50" y2="38.00" stroke="#555" stroke-width="1.1"/>
<text transform="translate(471.00,27.80) scale(0.8333,1)" font-size="7.200" text-anchor="middle" stroke="#231f20" stroke-width="0.14">23</text>
<text transform="translate(466.75,36.30) scale(0.9091,1)" font-size="6.600" text-anchor="middle" stroke="#231f20" stroke-width="0.14">M</text>
<text transform="translate(475.25,36.30) scale(0.9091,1)" font-size="6.600" text-anchor="middle" stroke="#231f20" stroke-width="0.14">L</text>
<line x1="479.50" y1="21.00" x2="479.50" y2="38.00" stroke="#555" stroke-width="1.1"/>
<text transform="translate(488.00,27.80) scale(0.8333,1)" font-size="7.200" text-anchor="middle" stroke="#231f20" stroke-width="0.14">24</text>
<text transform="translate(483.75,36.30) scale(0.9091,1)" font-size="6.600" text-anchor="middle" stroke="#231f20" stroke-width="0.14">M</text>
<text transform="translate(492.25,36.30) scale(0.9091,1)" font-size="6.600" text-anchor="middle" stroke="#231f20" stroke-width="0.14">L</text>
<line x1="496.50" y1="21.00" x2="496.50" y2="38.00" stroke="#555" stroke-width="1.1"/>
<text transform="translate(505.00,27.80) scale(0.8333,1)" font-size="7.200" text-anchor="middle" stroke="#231f20" stroke-width="0.14">25</text>
<text transform="translate(500.75,36.30) scale(0.9091,1)" font-size="6.600" text-anchor="middle" stroke="#231f20" stroke-width="0.14">M</text>
<text transform="translate(509.25,36.30) scale(0.9091,1)" font-size="6.600" text-anchor="middle" stroke="#231f20" stroke-width="0.14">L</text>
<polygon points="343.90,38.60 343.90,46.30 351.60,46.30" fill="#e0007a"/>
<polygon points="343.90,38.60 351.60,38.60 351.60,46.30" fill="#e0007a"/>
<line x1="343.90" y1="38.60" x2="351.60" y2="46.30" stroke="#fff" stroke-width="0.6" opacity="0.85"/>
<polygon points="352.40,38.60 352.40,46.30 360.10,46.30" fill="#e0007a"/>
<polygon points="352.40,38.60 360.10,38.60 360.10,46.30" fill="#e0007a"/>
<line x1="352.40" y1="38.60" x2="360.10" y2="46.30" stroke="#fff" stroke-width="0.6" opacity="0.85"/>
<polygon points="360.90,38.60 360.90,46.30 368.60,46.30" fill="#e0007a"/>
<polygon points="360.90,38.60 368.60,38.60 368.60,46.30" fill="#e0007a"/>
<line x1="360.90" y1="38.60" x2="368.60" y2="46.30" stroke="#fff" stroke-width="0.6" opacity="0.85"/>
<polygon points="369.40,38.60 369.40,46.30 377.10,46.30" fill="#e0007a"/>
<polygon points="369.40,38.60 377.10,38.60 377.10,46.30" fill="#e0007a"/>
<polygon points="377.10,38.60 377.10,46.30 373.25,42.45" fill="#c8c8cc"/>
<line x1="369.40" y1="38.60" x2="377.10" y2="46.30" stroke="#fff" stroke-width="0.6" opacity="0.85"/>
<line x1="369.40" y1="46.30" x2="377.10" y2="38.60" stroke="#fff" stroke-width="0.6" opacity="0.85"/>
<rect x="377.90" y="38.60" width="7.70" height="7.70" fill="#e0007a"/>
<rect x="386.40" y="38.60" width="7.70" height="7.70" fill="#e0007a"/>
<rect x="394.90" y="38.60" width="7.70" height="7.70" fill="#1ca9e6"/>
<polygon points="403.40,38.60 403.40,46.30 411.10,46.30" fill="#1ca9e6"/>
<polygon points="403.40,38.60 411.10,38.60 411.10,46.30" fill="#1ca9e6"/>
<line x1="403.40" y1="38.60" x2="411.10" y2="46.30" stroke="#fff" stroke-width="0.6" opacity="0.85"/>
<rect x="411.90" y="38.60" width="7.70" height="7.70" fill="#e0007a"/>
<polygon points="420.40,38.60 420.40,46.30 428.10,46.30" fill="#e0007a"/>
<polygon points="420.40,38.60 428.10,38.60 428.10,46.30" fill="#1ca9e6"/>
<line x1="420.40" y1="38.60" x2="428.10" y2="46.30" stroke="#fff" stroke-width="0.6" opacity="0.85"/>
<rect x="428.90" y="38.60" width="7.70" height="7.70" fill="#c8c8cc"/>
<rect x="437.40" y="38.60" width="7.70" height="7.70" fill="#1ca9e6"/>
<polygon points="445.90,38.60 445.90,46.30 453.60,46.30" fill="#e0007a"/>
<polygon points="445.90,38.60 453.60,38.60 453.60,46.30" fill="#e0007a"/>
<line x1="445.90" y1="38.60" x2="453.60" y2="46.30" stroke="#fff" stroke-width="0.6" opacity="0.85"/>
<polygon points="454.40,38.60 454.40,46.30 462.10,46.30" fill="#e0007a"/>
<polygon points="454.40,38.60 462.10,38.60 462.10,46.30" fill="#e0007a"/>
<line x1="454.40" y1="38.60" x2="462.10" y2="46.30" stroke="#fff" stroke-width="0.6" opacity="0.85"/>
<polygon points="462.90,38.60 462.90,46.30 470.60,46.30" fill="#e0007a"/>
<polygon points="462.90,38.60 470.60,38.60 470.60,46.30" fill="#e0007a"/>
<line x1="462.90" y1="38.60" x2="470.60" y2="46.30" stroke="#fff" stroke-width="0.6" opacity="0.85"/>
<polygon points="471.40,38.60 471.40,46.30 479.10,46.30" fill="#e0007a"/>
<polygon points="471.40,38.60 479.10,38.60 479.10,46.30" fill="#e0007a"/>
<line x1="471.40" y1="38.60" x2="479.10" y2="46.30" stroke="#fff" stroke-width="0.6" opacity="0.85"/>
<polygon points="479.90,38.60 479.90,46.30 487.60,46.30" fill="#e0007a"/>
<polygon points="479.90,38.60 487.60,38.60 487.60,46.30" fill="#e0007a"/>
<line x1="479.90" y1="38.60" x2="487.60" y2="46.30" stroke="#fff" stroke-width="0.6" opacity="0.85"/>
<polygon points="488.40,38.60 488.40,46.30 496.10,46.30" fill="#e0007a"/>
<polygon points="488.40,38.60 496.10,38.60 496.10,46.30" fill="#e0007a"/>
<line x1="488.40" y1="38.60" x2="496.10" y2="46.30" stroke="#fff" stroke-width="0.6" opacity="0.85"/>
<polygon points="496.90,38.60 496.90,46.30 504.60,46.30" fill="#e0007a"/>
<polygon points="496.90,38.60 504.60,38.60 504.60,46.30" fill="#e0007a"/>
<line x1="496.90" y1="38.60" x2="504.60" y2="46.30" stroke="#fff" stroke-width="0.6" opacity="0.85"/>
<line x1="496.90" y1="46.30" x2="504.60" y2="38.60" stroke="#fff" stroke-width="0.6" opacity="0.85"/>
<polygon points="505.40,38.60 505.40,46.30 513.10,46.30" fill="#e0007a"/>
<polygon points="505.40,38.60 513.10,38.60 513.10,46.30" fill="#e0007a"/>
<line x1="505.40" y1="38.60" x2="513.10" y2="46.30" stroke="#fff" stroke-width="0.6" opacity="0.85"/>
<line x1="505.40" y1="46.30" x2="513.10" y2="38.60" stroke="#fff" stroke-width="0.6" opacity="0.85"/>
<rect x="343.90" y="47.10" width="7.70" height="7.70" fill="#e0007a"/>
<rect x="352.40" y="47.10" width="7.70" height="7.70" fill="#e0007a"/>
<rect x="360.90" y="47.10" width="7.70" height="7.70" fill="#c8c8cc"/>
<rect x="369.40" y="47.10" width="7.70" height="7.70" fill="#c8c8cc"/>
<rect x="377.90" y="47.10" width="7.70" height="7.70" fill="#c8c8cc"/>
<rect x="386.40" y="47.10" width="7.70" height="7.70" fill="#c8c8cc"/>
<rect x="394.90" y="47.10" width="7.70" height="7.70" fill="#c8c8cc"/>
<rect x="403.40" y="47.10" width="7.70" height="7.70" fill="#c8c8cc"/>
<rect x="411.90" y="47.10" width="7.70" height="7.70" fill="#e0007a"/>
<rect x="420.40" y="47.10" width="7.70" height="7.70" fill="#e0007a"/>
<rect x="428.90" y="47.10" width="7.70" height="7.70" fill="#c8c8cc"/>
<rect x="437.40" y="47.10" width="7.70" height="7.70" fill="#c8c8cc"/>
<rect x="445.90" y="47.10" width="7.70" height="7.70" fill="#c8c8cc"/>
<rect x="454.40" y="47.10" width="7.70" height="7.70" fill="#c8c8cc"/>
<rect x="462.90" y="47.10" width="7.70" height="7.70" fill="#e0007a"/>
<rect x="471.40" y="47.10" width="7.70" height="7.70" fill="#e0007a"/>
<rect x="479.90" y="47.10" width="7.70" height="7.70" fill="#e0007a"/>
<rect x="488.40" y="47.10" width="7.70" height="7.70" fill="#e0007a"/>
<rect x="496.90" y="47.10" width="7.70" height="7.70" fill="#c8c8cc"/>
<rect x="505.40" y="47.10" width="7.70" height="7.70" fill="#c8c8cc"/>
<rect x="343.90" y="55.60" width="7.70" height="7.70" fill="#c8c8cc"/>
<rect x="352.40" y="55.60" width="7.70" height="7.70" fill="#c8c8cc"/>
<rect x="360.90" y="55.60" width="7.70" height="7.70" fill="#1ca9e6"/>
<rect x="369.40" y="55.60" width="7.70" height="7.70" fill="#c8c8cc"/>
<rect x="377.90" y="55.60" width="7.70" height="7.70" fill="#c8c8cc"/>
<rect x="386.40" y="55.60" width="7.70" height="7.70" fill="#c8c8cc"/>
<rect x="394.90" y="55.60" width="7.70" height="7.70" fill="#c8c8cc"/>
<rect x="403.40" y="55.60" width="7.70" height="7.70" fill="#c8c8cc"/>
<rect x="411.90" y="55.60" width="7.70" height="7.70" fill="#c8c8cc"/>
<rect x="420.40" y="55.60" width="7.70" height="7.70" fill="#c8c8cc"/>
<rect x="428.90" y="55.60" width="7.70" height="7.70" fill="#c8c8cc"/>
<rect x="437.40" y="55.60" width="7.70" height="7.70" fill="#c8c8cc"/>
<rect x="445.90" y="55.60" width="7.70" height="7.70" fill="#c8c8cc"/>
<rect x="454.40" y="55.60" width="7.70" height="7.70" fill="#c8c8cc"/>
<rect x="462.90" y="55.60" width="7.70" height="7.70" fill="#1ca9e6"/>
<rect x="471.40" y="55.60" width="7.70" height="7.70" fill="#c8c8cc"/>
<rect x="479.90" y="55.60" width="7.70" height="7.70" fill="#c8c8cc"/>
<rect x="488.40" y="55.60" width="7.70" height="7.70" fill="#c8c8cc"/>
<rect x="496.90" y="55.60" width="7.70" height="7.70" fill="#c8c8cc"/>
<rect x="505.40" y="55.60" width="7.70" height="7.70" fill="#c8c8cc"/>
<rect x="343.90" y="64.10" width="7.70" height="7.70" fill="#c8c8cc"/>
<rect x="352.40" y="64.10" width="7.70" height="7.70" fill="#c8c8cc"/>
<rect x="360.90" y="64.10" width="7.70" height="7.70" fill="#c8c8cc"/>
<rect x="369.40" y="64.10" width="7.70" height="7.70" fill="#c8c8cc"/>
<rect x="377.90" y="64.10" width="7.70" height="7.70" fill="#1ca9e6"/>
<rect x="386.40" y="64.10" width="7.70" height="7.70" fill="#c8c8cc"/>
<rect x="394.90" y="64.10" width="7.70" height="7.70" fill="#c8c8cc"/>
<rect x="403.40" y="64.10" width="7.70" height="7.70" fill="#c8c8cc"/>
<rect x="411.90" y="64.10" width="7.70" height="7.70" fill="#c8c8cc"/>
<rect x="420.40" y="64.10" width="7.70" height="7.70" fill="#c8c8cc"/>
<rect x="428.90" y="64.10" width="7.70" height="7.70" fill="#c8c8cc"/>
<rect x="437.40" y="64.10" width="7.70" height="7.70" fill="#c8c8cc"/>
<rect x="445.90" y="64.10" width="7.70" height="7.70" fill="#c8c8cc"/>
<rect x="454.40" y="64.10" width="7.70" height="7.70" fill="#c8c8cc"/>
<rect x="462.90" y="64.10" width="7.70" height="7.70" fill="#c8c8cc"/>
<rect x="471.40" y="64.10" width="7.70" height="7.70" fill="#c8c8cc"/>
<rect x="479.90" y="64.10" width="7.70" height="7.70" fill="#c8c8cc"/>
<rect x="488.40" y="64.10" width="7.70" height="7.70" fill="#c8c8cc"/>
<rect x="496.90" y="64.10" width="7.70" height="7.70" fill="#1ca9e6"/>
<rect x="505.40" y="64.10" width="7.70" height="7.70" fill="#1ca9e6"/>
<rect x="343.90" y="72.60" width="7.70" height="7.70" fill="#c8c8cc"/>
<rect x="352.40" y="72.60" width="7.70" height="7.70" fill="#c8c8cc"/>
<rect x="360.90" y="72.60" width="7.70" height="7.70" fill="#c8c8cc"/>
<rect x="369.40" y="72.60" width="7.70" height="7.70" fill="#c8c8cc"/>
<rect x="377.90" y="72.60" width="7.70" height="7.70" fill="#1ca9e6"/>
<rect x="386.40" y="72.60" width="7.70" height="7.70" fill="#c8c8cc"/>
<rect x="394.90" y="72.60" width="7.70" height="7.70" fill="#c8c8cc"/>
<rect x="403.40" y="72.60" width="7.70" height="7.70" fill="#c8c8cc"/>
<rect x="411.90" y="72.60" width="7.70" height="7.70" fill="#c8c8cc"/>
<rect x="420.40" y="72.60" width="7.70" height="7.70" fill="#c8c8cc"/>
<rect x="428.90" y="72.60" width="7.70" height="7.70" fill="#c8c8cc"/>
<rect x="437.40" y="72.60" width="7.70" height="7.70" fill="#c8c8cc"/>
<rect x="445.90" y="72.60" width="7.70" height="7.70" fill="#c8c8cc"/>
<rect x="454.40" y="72.60" width="7.70" height="7.70" fill="#c8c8cc"/>
<rect x="462.90" y="72.60" width="7.70" height="7.70" fill="#c8c8cc"/>
<rect x="471.40" y="72.60" width="7.70" height="7.70" fill="#c8c8cc"/>
<rect x="479.90" y="72.60" width="7.70" height="7.70" fill="#c8c8cc"/>
<rect x="488.40" y="72.60" width="7.70" height="7.70" fill="#c8c8cc"/>
<rect x="496.90" y="72.60" width="7.70" height="7.70" fill="#c8c8cc"/>
<rect x="505.40" y="72.60" width="7.70" height="7.70" fill="#c8c8cc"/>
<rect x="343.90" y="81.10" width="7.70" height="7.70" fill="#c8c8cc"/>
<rect x="352.40" y="81.10" width="7.70" height="7.70" fill="#c8c8cc"/>
<rect x="360.90" y="81.10" width="7.70" height="7.70" fill="#c8c8cc"/>
<rect x="369.40" y="81.10" width="7.70" height="7.70" fill="#c8c8cc"/>
<rect x="377.90" y="81.10" width="7.70" height="7.70" fill="#c8c8cc"/>
<rect x="386.40" y="81.10" width="7.70" height="7.70" fill="#c8c8cc"/>
<rect x="394.90" y="81.10" width="7.70" height="7.70" fill="#c8c8cc"/>
<rect x="403.40" y="81.10" width="7.70" height="7.70" fill="#c8c8cc"/>
<rect x="411.90" y="81.10" width="7.70" height="7.70" fill="#c8c8cc"/>
<rect x="420.40" y="81.10" width="7.70" height="7.70" fill="#c8c8cc"/>
<rect x="428.90" y="81.10" width="7.70" height="7.70" fill="#c8c8cc"/>
<rect x="437.40" y="81.10" width="7.70" height="7.70" fill="#c8c8cc"/>
<rect x="445.90" y="81.10" width="7.70" height="7.70" fill="#c8c8cc"/>
<rect x="454.40" y="81.10" width="7.70" height="7.70" fill="#c8c8cc"/>
<rect x="462.90" y="81.10" width="7.70" height="7.70" fill="#c8c8cc"/>
<rect x="471.40" y="81.10" width="7.70" height="7.70" fill="#c8c8cc"/>
<rect x="479.90" y="81.10" width="7.70" height="7.70" fill="#c8c8cc"/>
<rect x="488.40" y="81.10" width="7.70" height="7.70" fill="#c8c8cc"/>
<polygon points="496.90,81.10 496.90,88.80 504.60,88.80" fill="#1ca9e6"/>
<polygon points="496.90,81.10 504.60,81.10 504.60,88.80" fill="#1ca9e6"/>
<line x1="496.90" y1="81.10" x2="504.60" y2="88.80" stroke="#fff" stroke-width="0.6" opacity="0.85"/>
<rect x="505.40" y="81.10" width="7.70" height="7.70" fill="#c8c8cc"/>
<rect x="343.90" y="89.60" width="7.70" height="7.70" fill="#c8c8cc"/>
<rect x="352.40" y="89.60" width="7.70" height="7.70" fill="#c8c8cc"/>
<rect x="360.90" y="89.60" width="7.70" height="7.70" fill="#c8c8cc"/>
<rect x="369.40" y="89.60" width="7.70" height="7.70" fill="#c8c8cc"/>
<rect x="377.90" y="89.60" width="7.70" height="7.70" fill="#c8c8cc"/>
<rect x="386.40" y="89.60" width="7.70" height="7.70" fill="#c8c8cc"/>
<rect x="394.90" y="89.60" width="7.70" height="7.70" fill="#c8c8cc"/>
<rect x="403.40" y="89.60" width="7.70" height="7.70" fill="#c8c8cc"/>
<rect x="411.90" y="89.60" width="7.70" height="7.70" fill="#c8c8cc"/>
<rect x="420.40" y="89.60" width="7.70" height="7.70" fill="#c8c8cc"/>
<rect x="428.90" y="89.60" width="7.70" height="7.70" fill="#c8c8cc"/>
<rect x="437.40" y="89.60" width="7.70" height="7.70" fill="#c8c8cc"/>
<rect x="445.90" y="89.60" width="7.70" height="7.70" fill="#c8c8cc"/>
<rect x="454.40" y="89.60" width="7.70" height="7.70" fill="#c8c8cc"/>
<rect x="462.90" y="89.60" width="7.70" height="7.70" fill="#c8c8cc"/>
<rect x="471.40" y="89.60" width="7.70" height="7.70" fill="#c8c8cc"/>
<rect x="479.90" y="89.60" width="7.70" height="7.70" fill="#c8c8cc"/>
<rect x="488.40" y="89.60" width="7.70" height="7.70" fill="#c8c8cc"/>
<rect x="496.90" y="89.60" width="7.70" height="7.70" fill="#c8c8cc"/>
<rect x="505.40" y="89.60" width="7.70" height="7.70" fill="#c8c8cc"/>
<rect x="343.90" y="98.10" width="7.70" height="7.70" fill="#c8c8cc"/>
<rect x="352.40" y="98.10" width="7.70" height="7.70" fill="#c8c8cc"/>
<rect x="360.90" y="98.10" width="7.70" height="7.70" fill="#c8c8cc"/>
<rect x="369.40" y="98.10" width="7.70" height="7.70" fill="#c8c8cc"/>
<rect x="377.90" y="98.10" width="7.70" height="7.70" fill="#c8c8cc"/>
<rect x="386.40" y="98.10" width="7.70" height="7.70" fill="#c8c8cc"/>
<rect x="394.90" y="98.10" width="7.70" height="7.70" fill="#c8c8cc"/>
<rect x="403.40" y="98.10" width="7.70" height="7.70" fill="#c8c8cc"/>
<rect x="411.90" y="98.10" width="7.70" height="7.70" fill="#1ca9e6"/>
<rect x="420.40" y="98.10" width="7.70" height="7.70" fill="#c8c8cc"/>
<rect x="428.90" y="98.10" width="7.70" height="7.70" fill="#c8c8cc"/>
<rect x="437.40" y="98.10" width="7.70" height="7.70" fill="#c8c8cc"/>
<rect x="445.90" y="98.10" width="7.70" height="7.70" fill="#c8c8cc"/>
<rect x="454.40" y="98.10" width="7.70" height="7.70" fill="#c8c8cc"/>
<rect x="462.90" y="98.10" width="7.70" height="7.70" fill="#1ca9e6"/>
<rect x="471.40" y="98.10" width="7.70" height="7.70" fill="#c8c8cc"/>
<rect x="479.90" y="98.10" width="7.70" height="7.70" fill="#c8c8cc"/>
<rect x="488.40" y="98.10" width="7.70" height="7.70" fill="#c8c8cc"/>
<rect x="496.90" y="98.10" width="7.70" height="7.70" fill="#c8c8cc"/>
<rect x="505.40" y="98.10" width="7.70" height="7.70" fill="#c8c8cc"/>
<rect x="343.90" y="106.60" width="7.70" height="7.70" fill="#c8c8cc"/>
<rect x="352.40" y="106.60" width="7.70" height="7.70" fill="#1ca9e6"/>
<rect x="360.90" y="106.60" width="7.70" height="7.70" fill="#c8c8cc"/>
<rect x="369.40" y="106.60" width="7.70" height="7.70" fill="#c8c8cc"/>
<rect x="377.90" y="106.60" width="7.70" height="7.70" fill="#c8c8cc"/>
<rect x="386.40" y="106.60" width="7.70" height="7.70" fill="#1ca9e6"/>
<rect x="394.90" y="106.60" width="7.70" height="7.70" fill="#c8c8cc"/>
<rect x="403.40" y="106.60" width="7.70" height="7.70" fill="#1ca9e6"/>
<rect x="411.90" y="106.60" width="7.70" height="7.70" fill="#c8c8cc"/>
<rect x="420.40" y="106.60" width="7.70" height="7.70" fill="#1ca9e6"/>
<rect x="428.90" y="106.60" width="7.70" height="7.70" fill="#c8c8cc"/>
<rect x="437.40" y="106.60" width="7.70" height="7.70" fill="#c8c8cc"/>
<rect x="445.90" y="106.60" width="7.70" height="7.70" fill="#c8c8cc"/>
<rect x="454.40" y="106.60" width="7.70" height="7.70" fill="#c8c8cc"/>
<rect x="462.90" y="106.60" width="7.70" height="7.70" fill="#c8c8cc"/>
<rect x="471.40" y="106.60" width="7.70" height="7.70" fill="#1ca9e6"/>
<rect x="479.90" y="106.60" width="7.70" height="7.70" fill="#c8c8cc"/>
<rect x="488.40" y="106.60" width="7.70" height="7.70" fill="#c8c8cc"/>
<rect x="496.90" y="106.60" width="7.70" height="7.70" fill="#c8c8cc"/>
<rect x="505.40" y="106.60" width="7.70" height="7.70" fill="#1ca9e6"/>
<rect x="343.90" y="115.10" width="7.70" height="7.70" fill="#c8c8cc"/>
<rect x="352.40" y="115.10" width="7.70" height="7.70" fill="#1ca9e6"/>
<rect x="360.90" y="115.10" width="7.70" height="7.70" fill="#c8c8cc"/>
<rect x="369.40" y="115.10" width="7.70" height="7.70" fill="#c8c8cc"/>
<rect x="377.90" y="115.10" width="7.70" height="7.70" fill="#c8c8cc"/>
<rect x="386.40" y="115.10" width="7.70" height="7.70" fill="#c8c8cc"/>
<rect x="394.90" y="115.10" width="7.70" height="7.70" fill="#c8c8cc"/>
<rect x="403.40" y="115.10" width="7.70" height="7.70" fill="#c8c8cc"/>
<rect x="411.90" y="115.10" width="7.70" height="7.70" fill="#c8c8cc"/>
<rect x="420.40" y="115.10" width="7.70" height="7.70" fill="#1ca9e6"/>
<rect x="428.90" y="115.10" width="7.70" height="7.70" fill="#c8c8cc"/>
<rect x="437.40" y="115.10" width="7.70" height="7.70" fill="#c8c8cc"/>
<rect x="445.90" y="115.10" width="7.70" height="7.70" fill="#c8c8cc"/>
<rect x="454.40" y="115.10" width="7.70" height="7.70" fill="#c8c8cc"/>
<rect x="462.90" y="115.10" width="7.70" height="7.70" fill="#c8c8cc"/>
<rect x="471.40" y="115.10" width="7.70" height="7.70" fill="#1ca9e6"/>
<rect x="479.90" y="115.10" width="7.70" height="7.70" fill="#c8c8cc"/>
<rect x="488.40" y="115.10" width="7.70" height="7.70" fill="#1ca9e6"/>
<rect x="496.90" y="115.10" width="7.70" height="7.70" fill="#c8c8cc"/>
<rect x="505.40" y="115.10" width="7.70" height="7.70" fill="#c8c8cc"/>
<rect x="343.90" y="123.60" width="7.70" height="7.70" fill="#c8c8cc"/>
<rect x="352.40" y="123.60" width="7.70" height="7.70" fill="#c8c8cc"/>
<rect x="360.90" y="123.60" width="7.70" height="7.70" fill="#c8c8cc"/>
<rect x="369.40" y="123.60" width="7.70" height="7.70" fill="#c8c8cc"/>
<rect x="377.90" y="123.60" width="7.70" height="7.70" fill="#c8c8cc"/>
<rect x="386.40" y="123.60" width="7.70" height="7.70" fill="#c8c8cc"/>
<rect x="394.90" y="123.60" width="7.70" height="7.70" fill="#c8c8cc"/>
<rect x="403.40" y="123.60" width="7.70" height="7.70" fill="#c8c8cc"/>
<rect x="411.90" y="123.60" width="7.70" height="7.70" fill="#c8c8cc"/>
<rect x="420.40" y="123.60" width="7.70" height="7.70" fill="#c8c8cc"/>
<rect x="428.90" y="123.60" width="7.70" height="7.70" fill="#1ca9e6"/>
<rect x="437.40" y="123.60" width="7.70" height="7.70" fill="#c8c8cc"/>
<rect x="445.90" y="123.60" width="7.70" height="7.70" fill="#c8c8cc"/>
<rect x="454.40" y="123.60" width="7.70" height="7.70" fill="#c8c8cc"/>
<rect x="462.90" y="123.60" width="7.70" height="7.70" fill="#c8c8cc"/>
<rect x="471.40" y="123.60" width="7.70" height="7.70" fill="#c8c8cc"/>
<rect x="479.90" y="123.60" width="7.70" height="7.70" fill="#c8c8cc"/>
<rect x="488.40" y="123.60" width="7.70" height="7.70" fill="#c8c8cc"/>
<rect x="496.90" y="123.60" width="7.70" height="7.70" fill="#c8c8cc"/>
<rect x="505.40" y="123.60" width="7.70" height="7.70" fill="#c8c8cc"/>
<text transform="translate(7.10,150.50)" font-size="10.500" text-anchor="start" font-weight="bold" fill="#000">C</text>
<text transform="translate(62.00,157.80) scale(0.8696,1)" font-size="9.200" text-anchor="middle" stroke="#231f20" stroke-width="0.2">Clonal relatedness</text>
<line x1="35.20" y1="167.30" x2="35.20" y2="234.05" stroke="#333" stroke-width="1.25"/>
<line x1="32.20" y1="169.80" x2="35.20" y2="169.80" stroke="#333" stroke-width="0.9"/>
<text transform="translate(29.20,172.00)" font-size="6.200" text-anchor="end" stroke="#231f20" stroke-width="0.14">100</text>
<line x1="32.20" y1="182.54" x2="35.20" y2="182.54" stroke="#333" stroke-width="0.9"/>
<text transform="translate(29.20,184.74)" font-size="6.200" text-anchor="end" stroke="#231f20" stroke-width="0.14">80</text>
<line x1="32.20" y1="195.28" x2="35.20" y2="195.28" stroke="#333" stroke-width="0.9"/>
<text transform="translate(29.20,197.48)" font-size="6.200" text-anchor="end" stroke="#231f20" stroke-width="0.14">60</text>
<line x1="32.20" y1="208.02" x2="35.20" y2="208.02" stroke="#333" stroke-width="0.9"/>
<text transform="translate(29.20,210.22)" font-size="6.200" text-anchor="end" stroke="#231f20" stroke-width="0.14">40</text>
<line x1="32.20" y1="220.76" x2="35.20" y2="220.76" stroke="#333" stroke-width="0.9"/>
<text transform="translate(29.20,222.96)" font-size="6.200" text-anchor="end" stroke="#231f20" stroke-width="0.14">20</text>
<line x1="32.20" y1="233.50" x2="35.20" y2="233.50" stroke="#333" stroke-width="0.9"/>
<text transform="translate(29.20,235.70)" font-size="6.200" text-anchor="end" stroke="#231f20" stroke-width="0.14">0</text>
<line x1="34.65" y1="233.50" x2="79.00" y2="233.50" stroke="#333" stroke-width="1.25"/>
<line x1="47.20" y1="233.50" x2="47.20" y2="235.90" stroke="#333" stroke-width="0.9"/>
<line x1="65.30" y1="233.50" x2="65.30" y2="235.90" stroke="#333" stroke-width="0.9"/>
<rect x="41.80" y="169.80" width="11.10" height="4.30" fill="#cf0a2c"/>
<rect x="41.80" y="174.10" width="11.10" height="59.40" fill="#184a86"/>
<rect x="60.20" y="169.80" width="10.70" height="13.70" fill="#cf0a2c"/>
<rect x="60.20" y="183.50" width="10.70" height="50.00" fill="#184a86"/>
<text transform="translate(47.20,175.50)" font-size="6.200" text-anchor="middle" fill="#fff" stroke="#fff" stroke-width="0.05">2</text>
<text transform="translate(46.60,205.00)" font-size="6.400" text-anchor="middle" fill="#fff" stroke="#fff" stroke-width="0.05">16</text>
<text transform="translate(65.50,180.60)" font-size="6.800" text-anchor="middle" fill="#fff" stroke="#fff" stroke-width="0.05">2</text>
<text transform="translate(65.40,207.90)" font-size="6.600" text-anchor="middle" fill="#fff" stroke="#fff" stroke-width="0.05">8</text>
<rect x="76.20" y="173.10" width="5.80" height="3.20" fill="#184a86"/>
<text transform="translate(84.60,176.90) scale(0.9091,1)" font-size="6.600" text-anchor="start" stroke="#231f20" stroke-width="0.14">Related</text>
<rect x="76.20" y="181.60" width="5.80" height="3.20" fill="#cf0a2c"/>
<text transform="translate(84.60,185.30) scale(0.9091,1)" font-size="6.600" text-anchor="start" stroke="#231f20" stroke-width="0.14">Unrelated</text>
<text transform="translate(55.80,164.90)" font-size="6.000" text-anchor="middle" fill="#3a3a3a" stroke="#3a3a3a" stroke-width="0.1">ns</text>
<line x1="48.00" y1="167.40" x2="65.10" y2="167.40" stroke="#666" stroke-width="0.85"/>
<text transform="translate(14.00,202.20) rotate(-90) scale(0.8000,1)" font-size="7.750" text-anchor="middle" stroke="#231f20" stroke-width="0.24" textLength="88.75" lengthAdjust="spacingAndGlyphs">Percentage of patients (%)</text>
<text transform="translate(50.20,242.30) rotate(-45) scale(0.7576,1)" font-size="7.524" text-anchor="end" stroke="#231f20" stroke-width="0.16">MN-AITL</text>
<text transform="translate(68.30,242.30) rotate(-45) scale(0.7576,1)" font-size="7.524" text-anchor="end" stroke="#231f20" stroke-width="0.16">AITL-MN</text>
<text transform="translate(122.30,150.50)" font-size="10.500" text-anchor="start" font-weight="bold" fill="#000">D</text>
<text transform="translate(171.30,157.80) scale(0.8696,1)" font-size="9.200" text-anchor="middle" stroke="#231f20" stroke-width="0.2">Sex</text>
<line x1="150.50" y1="168.10" x2="150.50" y2="233.75" stroke="#333" stroke-width="1.25"/>
<line x1="147.50" y1="170.80" x2="150.50" y2="170.80" stroke="#333" stroke-width="0.9"/>
<text transform="translate(144.60,173.00)" font-size="6.200" text-anchor="end" stroke="#231f20" stroke-width="0.14">100</text>
<line x1="147.50" y1="183.28" x2="150.50" y2="183.28" stroke="#333" stroke-width="0.9"/>
<text transform="translate(144.60,185.48)" font-size="6.200" text-anchor="end" stroke="#231f20" stroke-width="0.14">80</text>
<line x1="147.50" y1="195.76" x2="150.50" y2="195.76" stroke="#333" stroke-width="0.9"/>
<text transform="translate(144.60,197.96)" font-size="6.200" text-anchor="end" stroke="#231f20" stroke-width="0.14">60</text>
<line x1="147.50" y1="208.24" x2="150.50" y2="208.24" stroke="#333" stroke-width="0.9"/>
<text transform="translate(144.60,210.44)" font-size="6.200" text-anchor="end" stroke="#231f20" stroke-width="0.14">40</text>
<line x1="147.50" y1="220.72" x2="150.50" y2="220.72" stroke="#333" stroke-width="0.9"/>
<text transform="translate(144.60,222.92)" font-size="6.200" text-anchor="end" stroke="#231f20" stroke-width="0.14">20</text>
<line x1="147.50" y1="233.20" x2="150.50" y2="233.20" stroke="#333" stroke-width="0.9"/>
<text transform="translate(144.60,235.40)" font-size="6.200" text-anchor="end" stroke="#231f20" stroke-width="0.14">0</text>
<line x1="149.95" y1="233.20" x2="192.40" y2="233.20" stroke="#333" stroke-width="1.25"/>
<line x1="162.60" y1="233.20" x2="162.60" y2="235.60" stroke="#333" stroke-width="0.9"/>
<line x1="180.30" y1="233.20" x2="180.30" y2="235.60" stroke="#333" stroke-width="0.9"/>
<rect x="157.30" y="170.80" width="10.60" height="24.20" fill="#cf0a2c"/>
<rect x="157.30" y="195.00" width="10.60" height="38.20" fill="#184a86"/>
<rect x="174.90" y="170.80" width="10.90" height="9.50" fill="#cf0a2c"/>
<rect x="174.90" y="180.30" width="10.90" height="52.90" fill="#184a86"/>
<text transform="translate(162.60,187.50)" font-size="6.400" text-anchor="middle" fill="#fff" stroke="#fff" stroke-width="0.05">5</text>
<text transform="translate(162.60,214.80)" font-size="6.400" text-anchor="middle" fill="#fff" stroke="#fff" stroke-width="0.05">8</text>
<text transform="translate(180.10,177.70)" font-size="6.400" text-anchor="middle" fill="#fff" stroke="#fff" stroke-width="0.05">1</text>
<text transform="translate(180.10,205.50)" font-size="6.400" text-anchor="middle" fill="#fff" stroke="#fff" stroke-width="0.05">6</text>
<rect x="189.40" y="174.20" width="5.40" height="3.00" fill="#184a86"/>
<text transform="translate(197.60,178.00) scale(0.9091,1)" font-size="6.600" text-anchor="start" stroke="#231f20" stroke-width="0.14">Male</text>
<rect x="189.40" y="182.60" width="5.40" height="3.00" fill="#cf0a2c"/>
<text transform="translate(197.60,186.40) scale(0.9091,1)" font-size="6.600" text-anchor="start" stroke="#231f20" stroke-width="0.14">Female</text>
<text transform="translate(172.00,166.20)" font-size="6.500" text-anchor="middle" fill="#3a3a3a" stroke="#3a3a3a" stroke-width="0.1">ns</text>
<line x1="163.80" y1="168.10" x2="180.10" y2="168.10" stroke="#666" stroke-width="0.85"/>
<text transform="translate(128.80,200.90) rotate(-90) scale(0.8000,1)" font-size="7.750" text-anchor="middle" stroke="#231f20" stroke-width="0.24" textLength="84.50" lengthAdjust="spacingAndGlyphs">Percentage of patients (%)</text>
<text transform="translate(165.60,242.00) rotate(-45) scale(0.7576,1)" font-size="7.524" text-anchor="end" stroke="#231f20" stroke-width="0.16">MN-AITL</text>
<text transform="translate(183.30,242.00) rotate(-45) scale(0.7576,1)" font-size="7.524" text-anchor="end" stroke="#231f20" stroke-width="0.16">AITL-MN</text>
<text transform="translate(229.10,150.50)" font-size="10.500" text-anchor="start" font-weight="bold" fill="#000">E</text>
<text transform="translate(274.80,157.00) scale(0.8696,1)" font-size="9.200" text-anchor="middle" stroke="#231f20" stroke-width="0.2">Age at initial disease</text>
<line x1="254.00" y1="170.50" x2="254.00" y2="235.15" stroke="#333" stroke-width="1.25"/>
<line x1="251.00" y1="171.90" x2="254.00" y2="171.90" stroke="#333" stroke-width="0.9"/>
<text transform="translate(247.90,174.10)" font-size="6.200" text-anchor="end" stroke="#231f20" stroke-width="0.14">90</text>
<line x1="251.00" y1="184.44" x2="254.00" y2="184.44" stroke="#333" stroke-width="0.9"/>
<text transform="translate(247.90,186.64)" font-size="6.200" text-anchor="end" stroke="#231f20" stroke-width="0.14">80</text>
<line x1="251.00" y1="196.98" x2="254.00" y2="196.98" stroke="#333" stroke-width="0.9"/>
<text transform="translate(247.90,199.18)" font-size="6.200" text-anchor="end" stroke="#231f20" stroke-width="0.14">70</text>
<line x1="251.00" y1="209.52" x2="254.00" y2="209.52" stroke="#333" stroke-width="0.9"/>
<text transform="translate(247.90,211.72)" font-size="6.200" text-anchor="end" stroke="#231f20" stroke-width="0.14">60</text>
<line x1="251.00" y1="222.06" x2="254.00" y2="222.06" stroke="#333" stroke-width="0.9"/>
<text transform="translate(247.90,224.26)" font-size="6.200" text-anchor="end" stroke="#231f20" stroke-width="0.14">50</text>
<line x1="251.00" y1="234.60" x2="254.00" y2="234.60" stroke="#333" stroke-width="0.9"/>
<text transform="translate(247.90,236.80)" font-size="6.200" text-anchor="end" stroke="#231f20" stroke-width="0.14">40</text>
<line x1="253.45" y1="234.60" x2="295.60" y2="234.60" stroke="#333" stroke-width="1.25"/>
<line x1="266.00" y1="234.60" x2="266.00" y2="237.00" stroke="#333" stroke-width="0.9"/>
<line x1="283.50" y1="234.60" x2="283.50" y2="237.00" stroke="#333" stroke-width="0.9"/>
<line x1="260.00" y1="193.60" x2="271.60" y2="193.60" stroke="#5a86b8" stroke-width="0.75"/>
<line x1="278.00" y1="195.20" x2="288.80" y2="195.20" stroke="#d02040" stroke-width="0.75"/>
<circle cx="263.80" cy="180.00" r="0.9" fill="#1a3560"/>
<circle cx="267.70" cy="181.30" r="0.9" fill="#1a3560"/>
<circle cx="265.80" cy="185.00" r="0.9" fill="#1a3560"/>
<circle cx="265.80" cy="187.50" r="0.9" fill="#1a3560"/>
<circle cx="265.80" cy="191.30" r="0.9" fill="#1a3560"/>
<circle cx="269.60" cy="190.00" r="0.9" fill="#1a3560"/>
<circle cx="261.90" cy="193.60" r="0.9" fill="#1a3560"/>
<circle cx="265.80" cy="193.60" r="0.9" fill="#1a3560"/>
<circle cx="269.60" cy="193.60" r="0.9" fill="#1a3560"/>
<circle cx="263.80" cy="197.50" r="0.9" fill="#1a3560"/>
<circle cx="267.70" cy="197.50" r="0.9" fill="#1a3560"/>
<circle cx="265.80" cy="205.00" r="0.9" fill="#1a3560"/>
<circle cx="265.80" cy="210.00" r="0.9" fill="#1a3560"/>
<circle cx="265.80" cy="212.50" r="0.9" fill="#1a3560"/>
<circle cx="265.80" cy="222.60" r="0.9" fill="#1a3560"/>
<circle cx="279.60" cy="191.20" r="0.9" fill="#b5183a"/>
<circle cx="287.30" cy="192.30" r="0.9" fill="#b5183a"/>
<circle cx="279.60" cy="195.20" r="0.9" fill="#b5183a"/>
<circle cx="287.30" cy="195.20" r="0.9" fill="#b5183a"/>
<circle cx="283.80" cy="205.00" r="0.9" fill="#b5183a"/>
<circle cx="283.30" cy="228.80" r="0.9" fill="#b5183a"/>
<circle cx="283.50" cy="193.80" r="0.9" fill="#3a2a3a"/>
<text transform="translate(275.10,172.60)" font-size="6.000" text-anchor="middle" fill="#3a3a3a" stroke="#3a3a3a" stroke-width="0.1">ns</text>
<line x1="266.70" y1="175.20" x2="283.90" y2="175.20" stroke="#666" stroke-width="0.85"/>
<text transform="translate(235.30,202.00) rotate(-90) scale(0.8000,1)" font-size="7.750" text-anchor="middle" stroke="#231f20" stroke-width="0.24" textLength="38.12" lengthAdjust="spacingAndGlyphs">Age (years)</text>
<text transform="translate(269.00,243.40) rotate(-45) scale(0.7576,1)" font-size="7.524" text-anchor="end" stroke="#231f20" stroke-width="0.16">MN-AITL</text>
<text transform="translate(286.50,243.40) rotate(-45) scale(0.7576,1)" font-size="7.524" text-anchor="end" stroke="#231f20" stroke-width="0.16">AITL-MN</text>
<text transform="translate(323.10,150.50)" font-size="10.500" text-anchor="start" font-weight="bold" fill="#000">F</text>
<text transform="translate(369.00,151.80) scale(0.8696,1)" font-size="9.200" text-anchor="middle" stroke="#231f20" stroke-width="0.2">Time between</text>
<text transform="translate(368.60,161.60) scale(0.8696,1)" font-size="9.200" text-anchor="middle" stroke="#231f20" stroke-width="0.2">MN and AITL</text>
<line x1="347.80" y1="172.00" x2="347.80" y2="235.65" stroke="#333" stroke-width="1.25"/>
<line x1="344.80" y1="173.00" x2="347.80" y2="173.00" stroke="#333" stroke-width="0.9"/>
<text transform="translate(342.60,175.20)" font-size="6.200" text-anchor="end" stroke="#231f20" stroke-width="0.14">15</text>
<line x1="344.80" y1="193.70" x2="347.80" y2="193.70" stroke="#333" stroke-width="0.9"/>
<text transform="translate(342.60,195.90)" font-size="6.200" text-anchor="end" stroke="#231f20" stroke-width="0.14">10</text>
<line x1="344.80" y1="214.40" x2="347.80" y2="214.40" stroke="#333" stroke-width="0.9"/>
<text transform="translate(342.60,216.60)" font-size="6.200" text-anchor="end" stroke="#231f20" stroke-width="0.14">5</text>
<line x1="344.80" y1="235.10" x2="347.80" y2="235.10" stroke="#333" stroke-width="0.9"/>
<text transform="translate(342.60,237.30)" font-size="6.200" text-anchor="end" stroke="#231f20" stroke-width="0.14">0</text>
<line x1="347.25" y1="235.10" x2="388.80" y2="235.10" stroke="#333" stroke-width="1.25"/>
<line x1="359.30" y1="235.10" x2="359.30" y2="237.50" stroke="#333" stroke-width="0.9"/>
<line x1="377.00" y1="235.10" x2="377.00" y2="237.50" stroke="#333" stroke-width="0.9"/>
<line x1="354.00" y1="224.50" x2="365.40" y2="224.50" stroke="#5a86b8" stroke-width="0.75"/>
<line x1="371.50" y1="224.50" x2="382.90" y2="224.50" stroke="#d02040" stroke-width="0.75"/>
<circle cx="359.20" cy="194.10" r="0.9" fill="#1a3560"/>
<circle cx="359.20" cy="210.60" r="0.9" fill="#1a3560"/>
<circle cx="357.00" cy="214.60" r="0.9" fill="#1a3560"/>
<circle cx="359.20" cy="215.60" r="0.9" fill="#1a3560"/>
<circle cx="359.20" cy="219.40" r="0.9" fill="#1a3560"/>
<circle cx="357.00" cy="222.70" r="0.9" fill="#1a3560"/>
<circle cx="361.40" cy="222.70" r="0.9" fill="#1a3560"/>
<circle cx="359.20" cy="227.10" r="0.9" fill="#1a3560"/>
<circle cx="359.20" cy="230.10" r="0.9" fill="#1a3560"/>
<circle cx="354.80" cy="234.80" r="0.9" fill="#1a3560"/>
<circle cx="357.00" cy="234.80" r="0.9" fill="#1a3560"/>
<circle cx="359.20" cy="234.80" r="0.9" fill="#1a3560"/>
<circle cx="361.40" cy="234.80" r="0.9" fill="#1a3560"/>
<circle cx="363.60" cy="234.80" r="0.9" fill="#1a3560"/>
<circle cx="377.00" cy="212.60" r="0.9" fill="#b5183a"/>
<circle cx="377.00" cy="219.70" r="0.9" fill="#b5183a"/>
<circle cx="374.80" cy="224.20" r="0.9" fill="#b5183a"/>
<circle cx="379.20" cy="224.20" r="0.9" fill="#b5183a"/>
<circle cx="377.00" cy="230.80" r="0.9" fill="#b5183a"/>
<circle cx="377.00" cy="234.30" r="0.9" fill="#b5183a"/>
<text transform="translate(370.00,180.40)" font-size="6.000" text-anchor="middle" fill="#3a3a3a" stroke="#3a3a3a" stroke-width="0.1">ns</text>
<line x1="361.90" y1="182.50" x2="379.60" y2="182.50" stroke="#666" stroke-width="0.85"/>
<text transform="translate(328.60,202.80) rotate(-90) scale(0.8000,1)" font-size="7.750" text-anchor="middle" stroke="#231f20" stroke-width="0.24" textLength="16.50" lengthAdjust="spacingAndGlyphs">Years</text>
<text transform="translate(362.30,243.90) rotate(-45) scale(0.7576,1)" font-size="7.524" text-anchor="end" stroke="#231f20" stroke-width="0.16">MN-AITL</text>
<text transform="translate(380.00,243.90) rotate(-45) scale(0.7576,1)" font-size="7.524" text-anchor="end" stroke="#231f20" stroke-width="0.16">AITL-MN</text>
<text transform="translate(405.70,150.50)" font-size="10.500" text-anchor="start" font-weight="bold" fill="#000">G</text>
<text transform="translate(461.30,160.60) scale(0.8696,1)" font-size="9.200" text-anchor="middle" stroke="#231f20" stroke-width="0.2">Diagnosis of MN</text>
<line x1="430.00" y1="166.20" x2="430.00" y2="235.65" stroke="#333" stroke-width="1.25"/>
<line x1="427.00" y1="168.54" x2="430.00" y2="168.54" stroke="#333" stroke-width="0.9"/>
<text transform="translate(424.20,170.74)" font-size="6.600" text-anchor="end" stroke="#231f20" stroke-width="0.14">80</text>
<line x1="427.00" y1="185.18" x2="430.00" y2="185.18" stroke="#333" stroke-width="0.9"/>
<text transform="translate(424.20,187.38)" font-size="6.600" text-anchor="end" stroke="#231f20" stroke-width="0.14">60</text>
<line x1="427.00" y1="201.82" x2="430.00" y2="201.82" stroke="#333" stroke-width="0.9"/>
<text transform="translate(424.20,204.02)" font-size="6.600" text-anchor="end" stroke="#231f20" stroke-width="0.14">40</text>
<line x1="427.00" y1="218.46" x2="430.00" y2="218.46" stroke="#333" stroke-width="0.9"/>
<text transform="translate(424.20,220.66)" font-size="6.600" text-anchor="end" stroke="#231f20" stroke-width="0.14">20</text>
<line x1="427.00" y1="235.10" x2="430.00" y2="235.10" stroke="#333" stroke-width="0.9"/>
<text transform="translate(424.20,237.30)" font-size="6.600" text-anchor="end" stroke="#231f20" stroke-width="0.14">0</text>
<line x1="429.45" y1="235.10" x2="492.60" y2="235.10" stroke="#333" stroke-width="1.25"/>
<line x1="439.90" y1="235.10" x2="439.90" y2="237.50" stroke="#333" stroke-width="0.9"/>
<line x1="461.10" y1="235.10" x2="461.10" y2="237.50" stroke="#333" stroke-width="0.9"/>
<line x1="482.60" y1="235.10" x2="482.60" y2="237.50" stroke="#333" stroke-width="0.9"/>
<rect x="432.90" y="204.00" width="5.40" height="31.10" fill="#184a86"/>
<rect x="441.30" y="183.60" width="5.40" height="51.50" fill="#cf0a2c"/>
<rect x="454.50" y="209.90" width="5.40" height="25.20" fill="#184a86"/>
<rect x="462.50" y="225.20" width="5.40" height="9.90" fill="#cf0a2c"/>
<rect x="476.20" y="209.90" width="5.40" height="25.20" fill="#184a86"/>
<rect x="484.40" y="214.90" width="5.40" height="20.20" fill="#cf0a2c"/>
<text transform="translate(435.70,225.80)" font-size="6.200" text-anchor="middle" fill="#fff" stroke="#fff" stroke-width="0.05">6</text>
<text transform="translate(444.10,207.30)" font-size="6.200" text-anchor="middle" fill="#fff" stroke="#fff" stroke-width="0.05">5</text>
<text transform="translate(457.30,224.50)" font-size="6.200" text-anchor="middle" fill="#fff" stroke="#fff" stroke-width="0.05">5</text>
<text transform="translate(465.20,232.80)" font-size="6.200" text-anchor="middle" fill="#fff" stroke="#fff" stroke-width="0.05">1</text>
<text transform="translate(478.90,225.40)" font-size="6.200" text-anchor="middle" fill="#fff" stroke="#fff" stroke-width="0.05">5</text>
<text transform="translate(487.10,229.10)" font-size="6.200" text-anchor="middle" fill="#fff" stroke="#fff" stroke-width="0.05">2</text>
<rect x="479.90" y="171.40" width="6.10" height="2.40" fill="#184a86"/>
<text transform="translate(489.40,175.00) scale(0.9091,1)" font-size="6.600" text-anchor="start" stroke="#231f20" stroke-width="0.14">MN-AITL</text>
<rect x="479.90" y="180.90" width="6.10" height="2.40" fill="#cf0a2c"/>
<text transform="translate(489.40,184.50) scale(0.9091,1)" font-size="6.600" text-anchor="start" stroke="#231f20" stroke-width="0.14">AITL-MN</text>
<text transform="translate(439.40,171.30)" font-size="6.500" text-anchor="middle" fill="#3a3a3a" stroke="#3a3a3a" stroke-width="0.1">ns</text>
<polyline points="435.40,202.10 435.40,174.30 443.40,174.30 443.40,176.60" fill="none" stroke="#666" stroke-width="0.85"/>
<text transform="translate(461.10,196.30)" font-size="6.500" text-anchor="middle" fill="#3a3a3a" stroke="#3a3a3a" stroke-width="0.1">ns</text>
<polyline points="456.60,203.50 456.60,199.80 465.10,199.80 465.10,224.20" fill="none" stroke="#666" stroke-width="0.85"/>
<text transform="translate(482.90,202.60)" font-size="6.500" text-anchor="middle" fill="#3a3a3a" stroke="#3a3a3a" stroke-width="0.1">ns</text>
<line x1="478.30" y1="205.10" x2="487.30" y2="205.10" stroke="#666" stroke-width="0.85"/>
<text transform="translate(411.50,200.10) rotate(-90) scale(0.8000,1)" font-size="7.750" text-anchor="middle" stroke="#231f20" stroke-width="0.24" textLength="84.50" lengthAdjust="spacingAndGlyphs">Percentage of patients (%)</text>
<text transform="translate(442.90,243.90) rotate(-45) scale(0.7576,1)" font-size="7.920" text-anchor="end" stroke="#231f20" stroke-width="0.16">MDS or AML</text>
<text transform="translate(464.10,243.90) rotate(-45) scale(0.7576,1)" font-size="7.920" text-anchor="end" stroke="#231f20" stroke-width="0.16">MPN</text>
<text transform="translate(485.60,243.90) rotate(-45) scale(0.7576,1)" font-size="7.920" text-anchor="end" stroke="#231f20" stroke-width="0.16">CMML</text>
<text transform="translate(7.30,287.70)" font-size="10.500" text-anchor="start" font-weight="bold" fill="#000">H</text>
<text transform="translate(57.50,298.80) scale(0.8696,1)" font-size="9.200" text-anchor="middle" stroke="#231f20" stroke-width="0.2">No. of <tspan font-style="italic">TET2/DNMT3A</tspan></text>
<text transform="translate(57.80,309.00) scale(0.8696,1)" font-size="9.200" text-anchor="middle" stroke="#231f20" stroke-width="0.2">CH mutations in MN</text>
<line x1="35.10" y1="318.90" x2="35.10" y2="379.85" stroke="#333" stroke-width="1.25"/>
<line x1="32.10" y1="321.20" x2="35.10" y2="321.20" stroke="#333" stroke-width="0.9"/>
<text transform="translate(28.70,323.40)" font-size="6.200" text-anchor="end" stroke="#231f20" stroke-width="0.14">100</text>
<line x1="32.10" y1="332.82" x2="35.10" y2="332.82" stroke="#333" stroke-width="0.9"/>
<text transform="translate(28.70,335.02)" font-size="6.200" text-anchor="end" stroke="#231f20" stroke-width="0.14">80</text>
<line x1="32.10" y1="344.44" x2="35.10" y2="344.44" stroke="#333" stroke-width="0.9"/>
<text transform="translate(28.70,346.64)" font-size="6.200" text-anchor="end" stroke="#231f20" stroke-width="0.14">60</text>
<line x1="32.10" y1="356.06" x2="35.10" y2="356.06" stroke="#333" stroke-width="0.9"/>
<text transform="translate(28.70,358.26)" font-size="6.200" text-anchor="end" stroke="#231f20" stroke-width="0.14">40</text>
<line x1="32.10" y1="367.68" x2="35.10" y2="367.68" stroke="#333" stroke-width="0.9"/>
<text transform="translate(28.70,369.88)" font-size="6.200" text-anchor="end" stroke="#231f20" stroke-width="0.14">20</text>
<line x1="32.10" y1="379.30" x2="35.10" y2="379.30" stroke="#333" stroke-width="0.9"/>
<text transform="translate(28.70,381.50)" font-size="6.200" text-anchor="end" stroke="#231f20" stroke-width="0.14">0</text>
<line x1="34.55" y1="379.30" x2="71.70" y2="379.30" stroke="#333" stroke-width="1.25"/>
<line x1="46.20" y1="379.30" x2="46.20" y2="381.70" stroke="#333" stroke-width="0.9"/>
<line x1="63.00" y1="379.30" x2="63.00" y2="381.70" stroke="#333" stroke-width="0.9"/>
<rect x="41.30" y="322.30" width="9.80" height="43.90" fill="#cf0a2c"/>
<rect x="41.30" y="366.20" width="9.80" height="13.10" fill="#184a86"/>
<rect x="58.20" y="322.30" width="9.80" height="49.50" fill="#cf0a2c"/>
<rect x="58.20" y="371.80" width="9.80" height="7.50" fill="#184a86"/>
<text transform="translate(46.60,348.80)" font-size="6.400" text-anchor="middle" fill="#fff" stroke="#fff" stroke-width="0.05">10</text>
<text transform="translate(46.50,374.90)" font-size="6.400" text-anchor="middle" fill="#fff" stroke="#fff" stroke-width="0.05">3</text>
<text transform="translate(63.10,352.30)" font-size="6.400" text-anchor="middle" fill="#fff" stroke="#fff" stroke-width="0.05">7</text>
<text transform="translate(63.30,378.20)" font-size="6.400" text-anchor="middle" fill="#fff" stroke="#fff" stroke-width="0.05">1</text>
<rect x="71.20" y="324.80" width="4.40" height="2.60" fill="#184a86"/>
<text transform="translate(79.40,328.20) scale(0.9091,1)" font-size="6.600" text-anchor="start" stroke="#231f20" stroke-width="0.14">1 mutation</text>
<rect x="71.20" y="332.60" width="4.40" height="2.80" fill="#cf0a2c"/>
<text transform="translate(79.40,336.00) scale(0.9091,1)" font-size="6.600" text-anchor="start" stroke="#231f20" stroke-width="0.14">≥ 2 mutations</text>
<text transform="translate(54.40,317.10)" font-size="5.800" text-anchor="middle" fill="#3a3a3a" stroke="#3a3a3a" stroke-width="0.1">ns</text>
<line x1="47.70" y1="319.80" x2="61.30" y2="319.80" stroke="#666" stroke-width="0.85"/>
<text transform="translate(12.80,351.00) rotate(-90) scale(0.8000,1)" font-size="7.750" text-anchor="middle" stroke="#231f20" stroke-width="0.24" textLength="78.75" lengthAdjust="spacingAndGlyphs">Percentage of patients (%)</text>
<text transform="translate(48.40,388.90) rotate(-45) scale(0.7576,1)" font-size="7.524" text-anchor="end" stroke="#231f20" stroke-width="0.16">MN-AITL</text>
<text transform="translate(65.20,388.90) rotate(-45) scale(0.7576,1)" font-size="7.524" text-anchor="end" stroke="#231f20" stroke-width="0.16">AITL-MN</text>
<text transform="translate(137.00,288.20)" font-size="10.500" text-anchor="start" font-weight="bold" fill="#000">I</text>
<text transform="translate(185.80,298.80) scale(0.8696,1)" font-size="9.200" text-anchor="middle" stroke="#231f20" stroke-width="0.2"><tspan font-style="italic">TET2</tspan> mutations</text>
<text transform="translate(185.80,308.00) scale(0.8696,1)" font-size="9.200" text-anchor="middle" stroke="#231f20" stroke-width="0.2">(MN)</text>
<line x1="165.60" y1="319.50" x2="165.60" y2="379.25" stroke="#333" stroke-width="1.25"/>
<line x1="162.60" y1="320.50" x2="165.60" y2="320.50" stroke="#333" stroke-width="0.9"/>
<text transform="translate(159.60,322.70)" font-size="6.200" text-anchor="end" stroke="#231f20" stroke-width="0.14">100</text>
<line x1="162.60" y1="332.14" x2="165.60" y2="332.14" stroke="#333" stroke-width="0.9"/>
<text transform="translate(159.60,334.34)" font-size="6.200" text-anchor="end" stroke="#231f20" stroke-width="0.14">80</text>
<line x1="162.60" y1="343.78" x2="165.60" y2="343.78" stroke="#333" stroke-width="0.9"/>
<text transform="translate(159.60,345.98)" font-size="6.200" text-anchor="end" stroke="#231f20" stroke-width="0.14">60</text>
<line x1="162.60" y1="355.42" x2="165.60" y2="355.42" stroke="#333" stroke-width="0.9"/>
<text transform="translate(159.60,357.62)" font-size="6.200" text-anchor="end" stroke="#231f20" stroke-width="0.14">40</text>
<line x1="162.60" y1="367.06" x2="165.60" y2="367.06" stroke="#333" stroke-width="0.9"/>
<text transform="translate(159.60,369.26)" font-size="6.200" text-anchor="end" stroke="#231f20" stroke-width="0.14">20</text>
<line x1="162.60" y1="378.70" x2="165.60" y2="378.70" stroke="#333" stroke-width="0.9"/>
<text transform="translate(159.60,380.90)" font-size="6.200" text-anchor="end" stroke="#231f20" stroke-width="0.14">0</text>
<line x1="165.05" y1="378.70" x2="204.50" y2="378.70" stroke="#333" stroke-width="1.25"/>
<line x1="177.00" y1="378.70" x2="177.00" y2="381.10" stroke="#333" stroke-width="0.9"/>
<line x1="193.40" y1="378.70" x2="193.40" y2="381.10" stroke="#333" stroke-width="0.9"/>
<line x1="172.50" y1="353.20" x2="182.00" y2="353.20" stroke="#5a86b8" stroke-width="0.75"/>
<line x1="187.60" y1="352.90" x2="199.30" y2="352.90" stroke="#d02040" stroke-width="0.75"/>
<circle cx="177.00" cy="347.50" r="0.9" fill="#1a3560"/>
<circle cx="174.50" cy="350.00" r="0.9" fill="#1a3560"/>
<circle cx="179.50" cy="350.00" r="0.9" fill="#1a3560"/>
<circle cx="173.00" cy="352.50" r="0.9" fill="#1a3560"/>
<circle cx="176.00" cy="352.50" r="0.9" fill="#1a3560"/>
<circle cx="180.00" cy="352.50" r="0.9" fill="#1a3560"/>
<circle cx="182.00" cy="353.00" r="0.9" fill="#1a3560"/>
<circle cx="175.00" cy="355.00" r="0.9" fill="#1a3560"/>
<circle cx="178.50" cy="355.00" r="0.9" fill="#1a3560"/>
<circle cx="174.00" cy="357.50" r="0.9" fill="#1a3560"/>
<circle cx="177.00" cy="358.00" r="0.9" fill="#1a3560"/>
<circle cx="180.50" cy="356.50" r="0.9" fill="#1a3560"/>
<circle cx="176.90" cy="366.50" r="0.9" fill="#1a3560"/>
<circle cx="193.50" cy="332.80" r="0.9" fill="#b5183a"/>
<circle cx="193.50" cy="348.60" r="0.9" fill="#b5183a"/>
<circle cx="190.90" cy="350.60" r="0.9" fill="#b5183a"/>
<circle cx="196.00" cy="350.60" r="0.9" fill="#b5183a"/>
<circle cx="198.00" cy="350.00" r="0.9" fill="#b5183a"/>
<circle cx="189.00" cy="352.80" r="0.9" fill="#b5183a"/>
<circle cx="191.50" cy="352.80" r="0.9" fill="#b5183a"/>
<circle cx="193.50" cy="352.80" r="0.9" fill="#b5183a"/>
<circle cx="195.50" cy="352.80" r="0.9" fill="#b5183a"/>
<circle cx="198.30" cy="352.80" r="0.9" fill="#b5183a"/>
<circle cx="189.60" cy="354.50" r="0.9" fill="#b5183a"/>
<circle cx="192.20" cy="354.50" r="0.9" fill="#b5183a"/>
<circle cx="194.70" cy="354.50" r="0.9" fill="#b5183a"/>
<circle cx="193.50" cy="356.40" r="0.9" fill="#b5183a"/>
<circle cx="193.50" cy="359.00" r="0.9" fill="#b5183a"/>
<circle cx="193.50" cy="361.30" r="0.9" fill="#b5183a"/>
<circle cx="193.50" cy="369.30" r="0.9" fill="#b5183a"/>
<circle cx="193.50" cy="376.40" r="0.9" fill="#b5183a"/>
<text transform="translate(185.40,325.60)" font-size="6.500" text-anchor="middle" fill="#3a3a3a" stroke="#3a3a3a" stroke-width="0.1">ns</text>
<line x1="176.30" y1="327.40" x2="193.00" y2="327.40" stroke="#666" stroke-width="0.85"/>
<text transform="translate(143.30,348.60) rotate(-90) scale(0.8000,1)" font-size="7.750" text-anchor="middle" stroke="#231f20" stroke-width="0.24" textLength="30.62" lengthAdjust="spacingAndGlyphs">VAFs (%)</text>
<text transform="translate(179.20,388.30) rotate(-45) scale(0.7576,1)" font-size="7.524" text-anchor="end" stroke="#231f20" stroke-width="0.16">MN-AITL</text>
<text transform="translate(195.60,388.30) rotate(-45) scale(0.7576,1)" font-size="7.524" text-anchor="end" stroke="#231f20" stroke-width="0.16">AITL-MN</text>
<text transform="translate(235.30,288.20)" font-size="10.500" text-anchor="start" font-weight="bold" fill="#000">J</text>
<text transform="translate(280.30,298.80) scale(0.8696,1)" font-size="9.200" text-anchor="middle" stroke="#231f20" stroke-width="0.2"><tspan font-style="italic">DNMT3A</tspan> mutations</text>
<text transform="translate(280.40,308.00) scale(0.8696,1)" font-size="9.200" text-anchor="middle" stroke="#231f20" stroke-width="0.2">(MN)</text>
<line x1="260.40" y1="318.50" x2="260.40" y2="378.95" stroke="#333" stroke-width="1.25"/>
<line x1="257.40" y1="320.32" x2="260.40" y2="320.32" stroke="#333" stroke-width="0.9"/>
<text transform="translate(255.00,322.52)" font-size="6.200" text-anchor="end" stroke="#231f20" stroke-width="0.14">60</text>
<line x1="257.40" y1="339.68" x2="260.40" y2="339.68" stroke="#333" stroke-width="0.9"/>
<text transform="translate(255.00,341.88)" font-size="6.200" text-anchor="end" stroke="#231f20" stroke-width="0.14">40</text>
<line x1="257.40" y1="359.04" x2="260.40" y2="359.04" stroke="#333" stroke-width="0.9"/>
<text transform="translate(255.00,361.24)" font-size="6.200" text-anchor="end" stroke="#231f20" stroke-width="0.14">20</text>
<line x1="257.40" y1="378.40" x2="260.40" y2="378.40" stroke="#333" stroke-width="0.9"/>
<text transform="translate(255.00,380.60)" font-size="6.200" text-anchor="end" stroke="#231f20" stroke-width="0.14">0</text>
<line x1="259.85" y1="378.40" x2="298.70" y2="378.40" stroke="#333" stroke-width="1.25"/>
<line x1="271.60" y1="378.40" x2="271.60" y2="380.80" stroke="#333" stroke-width="0.9"/>
<line x1="288.00" y1="378.40" x2="288.00" y2="380.80" stroke="#333" stroke-width="0.9"/>
<line x1="266.40" y1="337.20" x2="276.70" y2="337.20" stroke="#5a86b8" stroke-width="0.75"/>
<line x1="283.20" y1="334.60" x2="293.50" y2="334.60" stroke="#d02040" stroke-width="0.75"/>
<circle cx="269.00" cy="337.00" r="0.9" fill="#1a3560"/>
<circle cx="271.60" cy="336.30" r="0.9" fill="#1a3560"/>
<circle cx="274.80" cy="337.20" r="0.9" fill="#1a3560"/>
<circle cx="272.00" cy="350.50" r="0.9" fill="#1a3560"/>
<circle cx="272.00" cy="367.00" r="0.9" fill="#1a3560"/>
<circle cx="288.00" cy="328.20" r="0.9" fill="#b5183a"/>
<circle cx="285.10" cy="334.10" r="0.9" fill="#b5183a"/>
<circle cx="289.70" cy="334.60" r="0.9" fill="#b5183a"/>
<circle cx="288.00" cy="338.50" r="0.9" fill="#b5183a"/>
<text transform="translate(278.90,320.00)" font-size="6.500" text-anchor="middle" fill="#3a3a3a" stroke="#3a3a3a" stroke-width="0.1">ns</text>
<line x1="270.40" y1="322.20" x2="287.40" y2="322.20" stroke="#666" stroke-width="0.85"/>
<text transform="translate(241.40,348.60) rotate(-90) scale(0.8000,1)" font-size="7.750" text-anchor="middle" stroke="#231f20" stroke-width="0.24" textLength="30.00" lengthAdjust="spacingAndGlyphs">VAFs (%)</text>
<text transform="translate(273.80,388.00) rotate(-45) scale(0.7576,1)" font-size="7.524" text-anchor="end" stroke="#231f20" stroke-width="0.16">MN-AITL</text>
<text transform="translate(290.20,388.00) rotate(-45) scale(0.7576,1)" font-size="7.524" text-anchor="end" stroke="#231f20" stroke-width="0.16">AITL-MN</text>
<text transform="translate(338.50,288.20)" font-size="10.500" text-anchor="start" font-weight="bold" fill="#000">K</text>
<text transform="translate(383.00,298.80) scale(0.8696,1)" font-size="9.200" text-anchor="middle" stroke="#231f20" stroke-width="0.2"><tspan font-style="italic">TET2</tspan> mutations</text>
<text transform="translate(382.70,308.00) scale(0.8696,1)" font-size="9.200" text-anchor="middle" stroke="#231f20" stroke-width="0.2">(AITL)</text>
<line x1="362.70" y1="317.20" x2="362.70" y2="379.15" stroke="#333" stroke-width="1.25"/>
<line x1="359.70" y1="318.60" x2="362.70" y2="318.60" stroke="#333" stroke-width="0.9"/>
<text transform="translate(356.50,320.80)" font-size="6.200" text-anchor="end" stroke="#231f20" stroke-width="0.14">80</text>
<line x1="359.70" y1="333.60" x2="362.70" y2="333.60" stroke="#333" stroke-width="0.9"/>
<text transform="translate(356.50,335.80)" font-size="6.200" text-anchor="end" stroke="#231f20" stroke-width="0.14">60</text>
<line x1="359.70" y1="348.60" x2="362.70" y2="348.60" stroke="#333" stroke-width="0.9"/>
<text transform="translate(356.50,350.80)" font-size="6.200" text-anchor="end" stroke="#231f20" stroke-width="0.14">40</text>
<line x1="359.70" y1="363.60" x2="362.70" y2="363.60" stroke="#333" stroke-width="0.9"/>
<text transform="translate(356.50,365.80)" font-size="6.200" text-anchor="end" stroke="#231f20" stroke-width="0.14">20</text>
<line x1="359.70" y1="378.60" x2="362.70" y2="378.60" stroke="#333" stroke-width="0.9"/>
<text transform="translate(356.50,380.80)" font-size="6.200" text-anchor="end" stroke="#231f20" stroke-width="0.14">0</text>
<line x1="362.15" y1="378.60" x2="402.50" y2="378.60" stroke="#333" stroke-width="1.25"/>
<line x1="374.50" y1="378.60" x2="374.50" y2="381.00" stroke="#333" stroke-width="0.9"/>
<line x1="391.00" y1="378.60" x2="391.00" y2="381.00" stroke="#333" stroke-width="0.9"/>
<line x1="368.40" y1="354.20" x2="380.00" y2="354.20" stroke="#5a86b8" stroke-width="0.75"/>
<line x1="385.90" y1="360.30" x2="396.90" y2="360.30" stroke="#d02040" stroke-width="0.75"/>
<circle cx="374.50" cy="331.80" r="0.9" fill="#1a3560"/>
<circle cx="369.70" cy="349.20" r="0.9" fill="#1a3560"/>
<circle cx="371.60" cy="349.50" r="0.9" fill="#1a3560"/>
<circle cx="374.00" cy="349.00" r="0.9" fill="#1a3560"/>
<circle cx="376.60" cy="349.00" r="0.9" fill="#1a3560"/>
<circle cx="379.10" cy="349.70" r="0.9" fill="#1a3560"/>
<circle cx="369.70" cy="351.20" r="0.9" fill="#1a3560"/>
<circle cx="372.30" cy="351.20" r="0.9" fill="#1a3560"/>
<circle cx="374.90" cy="351.20" r="0.9" fill="#1a3560"/>
<circle cx="376.80" cy="351.20" r="0.9" fill="#1a3560"/>
<circle cx="371.00" cy="353.20" r="0.9" fill="#1a3560"/>
<circle cx="373.00" cy="353.20" r="0.9" fill="#1a3560"/>
<circle cx="375.30" cy="353.20" r="0.9" fill="#1a3560"/>
<circle cx="371.60" cy="355.80" r="0.9" fill="#1a3560"/>
<circle cx="373.60" cy="355.80" r="0.9" fill="#1a3560"/>
<circle cx="372.90" cy="359.60" r="0.9" fill="#1a3560"/>
<circle cx="375.80" cy="360.30" r="0.9" fill="#1a3560"/>
<circle cx="371.90" cy="364.80" r="0.9" fill="#1a3560"/>
<circle cx="374.20" cy="363.90" r="0.9" fill="#1a3560"/>
<circle cx="376.80" cy="364.80" r="0.9" fill="#1a3560"/>
<circle cx="372.90" cy="370.00" r="0.9" fill="#1a3560"/>
<circle cx="375.50" cy="370.00" r="0.9" fill="#1a3560"/>
<circle cx="372.90" cy="376.40" r="0.9" fill="#1a3560"/>
<circle cx="375.50" cy="376.40" r="0.9" fill="#1a3560"/>
<circle cx="391.00" cy="345.40" r="0.9" fill="#b5183a"/>
<circle cx="391.00" cy="347.10" r="0.9" fill="#b5183a"/>
<circle cx="391.00" cy="351.20" r="0.9" fill="#b5183a"/>
<circle cx="390.00" cy="356.10" r="0.9" fill="#b5183a"/>
<circle cx="393.40" cy="355.80" r="0.9" fill="#b5183a"/>
<circle cx="390.00" cy="357.70" r="0.9" fill="#b5183a"/>
<circle cx="393.40" cy="357.70" r="0.9" fill="#b5183a"/>
<circle cx="388.50" cy="359.60" r="0.9" fill="#b5183a"/>
<circle cx="391.30" cy="359.60" r="0.9" fill="#b5183a"/>
<circle cx="393.90" cy="359.60" r="0.9" fill="#b5183a"/>
<circle cx="390.00" cy="362.20" r="0.9" fill="#b5183a"/>
<circle cx="393.40" cy="361.80" r="0.9" fill="#b5183a"/>
<circle cx="390.00" cy="366.50" r="0.9" fill="#b5183a"/>
<circle cx="393.40" cy="365.70" r="0.9" fill="#b5183a"/>
<circle cx="391.00" cy="370.60" r="0.9" fill="#b5183a"/>
<circle cx="389.80" cy="372.60" r="0.9" fill="#b5183a"/>
<circle cx="393.40" cy="373.90" r="0.9" fill="#b5183a"/>
<circle cx="391.00" cy="377.70" r="0.9" fill="#b5183a"/>
<text transform="translate(384.40,322.60)" font-size="6.500" text-anchor="middle" fill="#3a3a3a" stroke="#3a3a3a" stroke-width="0.1">ns</text>
<line x1="376.00" y1="324.50" x2="392.50" y2="324.50" stroke="#666" stroke-width="0.85"/>
<text transform="translate(344.70,347.80) rotate(-90) scale(0.8000,1)" font-size="7.750" text-anchor="middle" stroke="#231f20" stroke-width="0.24" textLength="30.50" lengthAdjust="spacingAndGlyphs">VAFs (%)</text>
<text transform="translate(376.70,388.20) rotate(-45) scale(0.7576,1)" font-size="7.524" text-anchor="end" stroke="#231f20" stroke-width="0.16">MN-AITL</text>
<text transform="translate(393.20,388.20) rotate(-45) scale(0.7576,1)" font-size="7.524" text-anchor="end" stroke="#231f20" stroke-width="0.16">AITL-MN</text>
<text transform="translate(433.50,288.00)" font-size="10.500" text-anchor="start" font-weight="bold" fill="#000">L</text>
<text transform="translate(478.10,298.80) scale(0.8696,1)" font-size="9.200" text-anchor="middle" stroke="#231f20" stroke-width="0.2"><tspan font-style="italic">DNMT3A</tspan> mutations</text>
<text transform="translate(477.70,308.00) scale(0.8696,1)" font-size="9.200" text-anchor="middle" stroke="#231f20" stroke-width="0.2">(AITL)</text>
<line x1="457.30" y1="318.00" x2="457.30" y2="378.75" stroke="#333" stroke-width="1.25"/>
<line x1="455.10" y1="320.20" x2="457.30" y2="320.20" stroke="#333" stroke-width="0.9"/>
<text transform="translate(452.50,322.40)" font-size="6.200" text-anchor="end" stroke="#231f20" stroke-width="0.14">50</text>
<line x1="455.10" y1="331.80" x2="457.30" y2="331.80" stroke="#333" stroke-width="0.9"/>
<text transform="translate(452.50,334.00)" font-size="6.200" text-anchor="end" stroke="#231f20" stroke-width="0.14">40</text>
<line x1="455.10" y1="343.40" x2="457.30" y2="343.40" stroke="#333" stroke-width="0.9"/>
<text transform="translate(452.50,345.60)" font-size="6.200" text-anchor="end" stroke="#231f20" stroke-width="0.14">30</text>
<line x1="455.10" y1="355.00" x2="457.30" y2="355.00" stroke="#333" stroke-width="0.9"/>
<text transform="translate(452.50,357.20)" font-size="6.200" text-anchor="end" stroke="#231f20" stroke-width="0.14">20</text>
<line x1="455.10" y1="366.60" x2="457.30" y2="366.60" stroke="#333" stroke-width="0.9"/>
<text transform="translate(452.50,368.80)" font-size="6.200" text-anchor="end" stroke="#231f20" stroke-width="0.14">10</text>
<line x1="455.10" y1="378.20" x2="457.30" y2="378.20" stroke="#333" stroke-width="0.9"/>
<text transform="translate(452.50,380.40)" font-size="6.200" text-anchor="end" stroke="#231f20" stroke-width="0.14">0</text>
<line x1="456.75" y1="378.20" x2="494.90" y2="378.20" stroke="#333" stroke-width="1.25"/>
<line x1="469.50" y1="378.20" x2="469.50" y2="380.60" stroke="#333" stroke-width="0.9"/>
<line x1="486.00" y1="378.20" x2="486.00" y2="380.60" stroke="#333" stroke-width="0.9"/>
<line x1="464.70" y1="342.20" x2="475.00" y2="342.20" stroke="#5a86b8" stroke-width="0.75"/>
<line x1="480.20" y1="336.30" x2="491.90" y2="336.30" stroke="#d02040" stroke-width="0.75"/>
<circle cx="469.50" cy="330.50" r="0.9" fill="#1a3560"/>
<circle cx="469.50" cy="333.80" r="0.9" fill="#1a3560"/>
<circle cx="469.50" cy="341.90" r="0.9" fill="#1a3560"/>
<circle cx="469.50" cy="344.50" r="0.9" fill="#1a3560"/>
<circle cx="469.50" cy="370.40" r="0.9" fill="#1a3560"/>
<circle cx="486.00" cy="330.50" r="0.9" fill="#b5183a"/>
<circle cx="484.10" cy="336.10" r="0.9" fill="#b5183a"/>
<circle cx="488.00" cy="337.20" r="0.9" fill="#b5183a"/>
<circle cx="486.00" cy="355.40" r="0.9" fill="#b5183a"/>
<text transform="translate(477.50,321.60)" font-size="6.500" text-anchor="middle" fill="#3a3a3a" stroke="#3a3a3a" stroke-width="0.1">ns</text>
<line x1="470.40" y1="325.00" x2="487.40" y2="325.00" stroke="#666" stroke-width="0.85"/>
<text transform="translate(439.50,348.80) rotate(-90) scale(0.8000,1)" font-size="7.750" text-anchor="middle" stroke="#231f20" stroke-width="0.24" textLength="29.25" lengthAdjust="spacingAndGlyphs">VAFs (%)</text>
<text transform="translate(471.70,387.80) rotate(-45) scale(0.7576,1)" font-size="7.524" text-anchor="end" stroke="#231f20" stroke-width="0.16">MN-AITL</text>
<text transform="translate(488.20,387.80) rotate(-45) scale(0.7576,1)" font-size="7.524" text-anchor="end" stroke="#231f20" stroke-width="0.16">AITL-MN</text>
<text transform="translate(6.50,424.00)" font-size="10.500" text-anchor="start" font-weight="bold" fill="#000">M</text>
<text transform="translate(76.80,434.00) scale(0.8696,1)" font-size="9.200" text-anchor="middle" stroke="#231f20" stroke-width="0.2">Mutations in AITL</text>
<line x1="35.30" y1="442.50" x2="35.30" y2="506.65" stroke="#333" stroke-width="1.25"/>
<line x1="32.30" y1="444.70" x2="35.30" y2="444.70" stroke="#333" stroke-width="0.9"/>
<text transform="translate(28.90,446.90)" font-size="6.200" text-anchor="end" stroke="#231f20" stroke-width="0.14">100</text>
<line x1="32.30" y1="456.98" x2="35.30" y2="456.98" stroke="#333" stroke-width="0.9"/>
<text transform="translate(28.90,459.18)" font-size="6.200" text-anchor="end" stroke="#231f20" stroke-width="0.14">80</text>
<line x1="32.30" y1="469.26" x2="35.30" y2="469.26" stroke="#333" stroke-width="0.9"/>
<text transform="translate(28.90,471.46)" font-size="6.200" text-anchor="end" stroke="#231f20" stroke-width="0.14">60</text>
<line x1="32.30" y1="481.54" x2="35.30" y2="481.54" stroke="#333" stroke-width="0.9"/>
<text transform="translate(28.90,483.74)" font-size="6.200" text-anchor="end" stroke="#231f20" stroke-width="0.14">40</text>
<line x1="32.30" y1="493.82" x2="35.30" y2="493.82" stroke="#333" stroke-width="0.9"/>
<text transform="translate(28.90,496.02)" font-size="6.200" text-anchor="end" stroke="#231f20" stroke-width="0.14">20</text>
<line x1="32.30" y1="506.10" x2="35.30" y2="506.10" stroke="#333" stroke-width="0.9"/>
<text transform="translate(28.90,508.30)" font-size="6.200" text-anchor="end" stroke="#231f20" stroke-width="0.14">0</text>
<line x1="34.75" y1="506.10" x2="115.60" y2="506.10" stroke="#333" stroke-width="1.25"/>
<line x1="44.50" y1="506.10" x2="44.50" y2="508.50" stroke="#333" stroke-width="0.9"/>
<line x1="65.00" y1="506.10" x2="65.00" y2="508.50" stroke="#333" stroke-width="0.9"/>
<line x1="85.90" y1="506.10" x2="85.90" y2="508.50" stroke="#333" stroke-width="0.9"/>
<line x1="106.50" y1="506.10" x2="106.50" y2="508.50" stroke="#333" stroke-width="0.9"/>
<rect x="36.90" y="448.54" width="6.20" height="57.56" fill="#184a86"/>
<rect x="45.20" y="444.70" width="6.20" height="61.40" fill="#cf0a2c"/>
<rect x="58.20" y="475.40" width="6.20" height="30.70" fill="#184a86"/>
<rect x="66.00" y="475.40" width="6.20" height="30.70" fill="#cf0a2c"/>
<rect x="79.00" y="489.22" width="6.20" height="16.88" fill="#184a86"/>
<rect x="87.10" y="468.34" width="6.20" height="37.76" fill="#cf0a2c"/>
<rect x="99.70" y="502.26" width="6.20" height="3.84" fill="#184a86"/>
<rect x="107.30" y="475.71" width="6.20" height="30.39" fill="#cf0a2c"/>
<text transform="translate(40.40,484.20)" font-size="6.400" text-anchor="middle" fill="#fff" stroke="#fff" stroke-width="0.05">15</text>
<text transform="translate(48.20,476.40)" font-size="6.400" text-anchor="middle" fill="#fff" stroke="#fff" stroke-width="0.05">8</text>
<text transform="translate(61.10,494.60)" font-size="6.400" text-anchor="middle" fill="#fff" stroke="#fff" stroke-width="0.05">8</text>
<text transform="translate(68.90,494.60)" font-size="6.400" text-anchor="middle" fill="#fff" stroke="#fff" stroke-width="0.05">4</text>
<text transform="translate(81.60,499.80)" font-size="6.400" text-anchor="middle" fill="#fff" stroke="#fff" stroke-width="0.05">4</text>
<text transform="translate(90.20,489.40)" font-size="6.400" text-anchor="middle" fill="#fff" stroke="#fff" stroke-width="0.05">5</text>
<text transform="translate(102.90,505.90)" font-size="4.200" text-anchor="middle" fill="#fff" stroke="#fff" stroke-width="0.05">1</text>
<text transform="translate(110.40,493.70)" font-size="6.400" text-anchor="middle" fill="#fff" stroke="#fff" stroke-width="0.05">4</text>
<rect x="85.40" y="441.20" width="6.00" height="2.70" fill="#184a86"/>
<text transform="translate(93.50,445.00) scale(0.9091,1)" font-size="6.600" text-anchor="start" stroke="#231f20" stroke-width="0.14">MN-AITL</text>
<rect x="85.40" y="449.90" width="6.00" height="2.70" fill="#cf0a2c"/>
<text transform="translate(93.50,453.70) scale(0.9091,1)" font-size="6.600" text-anchor="start" stroke="#231f20" stroke-width="0.14">AITL-MN</text>
<text transform="translate(44.30,440.20)" font-size="5.800" text-anchor="middle" fill="#3a3a3a" stroke="#3a3a3a" stroke-width="0.1">ns</text>
<line x1="40.40" y1="442.50" x2="48.20" y2="442.50" stroke="#666" stroke-width="0.85"/>
<text transform="translate(65.90,470.60)" font-size="5.800" text-anchor="middle" fill="#3a3a3a" stroke="#3a3a3a" stroke-width="0.1">ns</text>
<line x1="61.70" y1="472.90" x2="69.40" y2="472.90" stroke="#666" stroke-width="0.85"/>
<text transform="translate(86.50,462.20)" font-size="5.800" text-anchor="middle" fill="#3a3a3a" stroke="#3a3a3a" stroke-width="0.1">ns</text>
<polyline points="83.30,485.00 83.30,464.30 90.60,464.30 90.60,466.30" fill="none" stroke="#666" stroke-width="0.85"/>
<text transform="translate(105.90,470.00)" font-size="6.400" text-anchor="middle" fill="#3a3a3a" stroke="#3a3a3a" stroke-width="0.1">*</text>
<polyline points="103.50,499.20 103.50,471.50 109.60,471.50 109.60,473.60" fill="none" stroke="#666" stroke-width="0.85"/>
<text transform="translate(14.60,475.00) rotate(-90) scale(0.8000,1)" font-size="7.750" text-anchor="middle" stroke="#231f20" stroke-width="0.24" textLength="82.50" lengthAdjust="spacingAndGlyphs">Percentage of patients (%)</text>
<text transform="translate(47.50,515.30) rotate(-45) scale(0.7576,1)" font-size="7.788" text-anchor="end" font-style="italic" stroke="#231f20" stroke-width="0.06">TET2</text>
<text transform="translate(68.00,515.30) rotate(-45) scale(0.7576,1)" font-size="7.788" text-anchor="end" font-style="italic" stroke="#231f20" stroke-width="0.06">DNMT3A</text>
<text transform="translate(88.90,515.30) rotate(-45) scale(0.7576,1)" font-size="7.788" text-anchor="end" font-style="italic" stroke="#231f20" stroke-width="0.06">RHOA</text>
<text transform="translate(109.50,515.30) rotate(-45) scale(0.7576,1)" font-size="7.788" text-anchor="end" font-style="italic" stroke="#231f20" stroke-width="0.06">IDH2</text>
<text transform="translate(128.80,423.80)" font-size="10.500" text-anchor="start" font-weight="bold" fill="#000">N</text>
<text transform="translate(224.00,432.00) scale(0.8696,1)" font-size="9.200" text-anchor="middle" stroke="#231f20" stroke-width="0.2">Mutations in MN</text>
<line x1="157.20" y1="440.50" x2="157.20" y2="505.45" stroke="#333" stroke-width="1.25"/>
<line x1="154.20" y1="442.10" x2="157.20" y2="442.10" stroke="#333" stroke-width="0.9"/>
<text transform="translate(151.70,444.30)" font-size="6.200" text-anchor="end" stroke="#231f20" stroke-width="0.14">100</text>
<line x1="154.20" y1="454.66" x2="157.20" y2="454.66" stroke="#333" stroke-width="0.9"/>
<text transform="translate(151.70,456.86)" font-size="6.200" text-anchor="end" stroke="#231f20" stroke-width="0.14">80</text>
<line x1="154.20" y1="467.22" x2="157.20" y2="467.22" stroke="#333" stroke-width="0.9"/>
<text transform="translate(151.70,469.42)" font-size="6.200" text-anchor="end" stroke="#231f20" stroke-width="0.14">60</text>
<line x1="154.20" y1="479.78" x2="157.20" y2="479.78" stroke="#333" stroke-width="0.9"/>
<text transform="translate(151.70,481.98)" font-size="6.200" text-anchor="end" stroke="#231f20" stroke-width="0.14">40</text>
<line x1="154.20" y1="492.34" x2="157.20" y2="492.34" stroke="#333" stroke-width="0.9"/>
<text transform="translate(151.70,494.54)" font-size="6.200" text-anchor="end" stroke="#231f20" stroke-width="0.14">20</text>
<line x1="154.20" y1="504.90" x2="157.20" y2="504.90" stroke="#333" stroke-width="0.9"/>
<text transform="translate(151.70,507.10)" font-size="6.200" text-anchor="end" stroke="#231f20" stroke-width="0.14">0</text>
<line x1="156.65" y1="504.90" x2="291.50" y2="504.90" stroke="#333" stroke-width="1.25"/>
<line x1="166.30" y1="504.90" x2="166.30" y2="507.30" stroke="#333" stroke-width="0.9"/>
<line x1="185.50" y1="504.90" x2="185.50" y2="507.30" stroke="#333" stroke-width="0.9"/>
<line x1="205.00" y1="504.90" x2="205.00" y2="507.30" stroke="#333" stroke-width="0.9"/>
<line x1="224.50" y1="504.90" x2="224.50" y2="507.30" stroke="#333" stroke-width="0.9"/>
<line x1="247.30" y1="504.90" x2="247.30" y2="507.30" stroke="#333" stroke-width="0.9"/>
<line x1="263.20" y1="504.90" x2="263.20" y2="507.30" stroke="#333" stroke-width="0.9"/>
<line x1="278.90" y1="504.90" x2="278.90" y2="507.30" stroke="#333" stroke-width="0.9"/>
<rect x="159.70" y="454.80" width="5.70" height="50.10" fill="#184a86"/>
<rect x="166.70" y="442.90" width="5.70" height="62.00" fill="#cf0a2c"/>
<rect x="179.20" y="474.30" width="5.70" height="30.60" fill="#184a86"/>
<rect x="186.20" y="474.30" width="5.70" height="30.60" fill="#cf0a2c"/>
<rect x="198.20" y="481.50" width="5.70" height="23.40" fill="#184a86"/>
<rect x="205.70" y="489.90" width="5.70" height="15.00" fill="#cf0a2c"/>
<rect x="217.70" y="491.00" width="5.70" height="13.90" fill="#184a86"/>
<rect x="224.80" y="489.90" width="5.70" height="15.00" fill="#cf0a2c"/>
<rect x="244.20" y="489.90" width="5.70" height="15.00" fill="#cf0a2c"/>
<rect x="256.70" y="496.00" width="5.70" height="8.90" fill="#184a86"/>
<rect x="263.60" y="498.00" width="5.70" height="6.90" fill="#cf0a2c"/>
<rect x="275.90" y="500.80" width="5.70" height="4.10" fill="#184a86"/>
<text transform="translate(162.50,483.00)" font-size="5.800" text-anchor="middle" fill="#fff" stroke="#fff" stroke-width="0.05">13</text>
<text transform="translate(170.20,478.30)" font-size="5.800" text-anchor="middle" fill="#fff" stroke="#fff" stroke-width="0.05">8</text>
<text transform="translate(182.00,492.20)" font-size="5.800" text-anchor="middle" fill="#fff" stroke="#fff" stroke-width="0.05">8</text>
<text transform="translate(189.50,492.80)" font-size="5.800" text-anchor="middle" fill="#fff" stroke="#fff" stroke-width="0.05">4</text>
<text transform="translate(201.00,495.50)" font-size="5.800" text-anchor="middle" fill="#fff" stroke="#fff" stroke-width="0.05">5</text>
<text transform="translate(208.50,500.30)" font-size="5.800" text-anchor="middle" fill="#fff" stroke="#fff" stroke-width="0.05">2</text>
<text transform="translate(220.40,501.10)" font-size="5.800" text-anchor="middle" fill="#fff" stroke="#fff" stroke-width="0.05">3</text>
<text transform="translate(227.60,501.10)" font-size="5.800" text-anchor="middle" fill="#fff" stroke="#fff" stroke-width="0.05">2</text>
<text transform="translate(247.00,501.10)" font-size="5.800" text-anchor="middle" fill="#fff" stroke="#fff" stroke-width="0.05">2</text>
<text transform="translate(259.50,503.10)" font-size="5.800" text-anchor="middle" fill="#fff" stroke="#fff" stroke-width="0.05">2</text>
<text transform="translate(266.40,503.90)" font-size="5.800" text-anchor="middle" fill="#fff" stroke="#fff" stroke-width="0.05">1</text>
<text transform="translate(278.80,504.90)" font-size="5.800" text-anchor="middle" fill="#fff" stroke="#fff" stroke-width="0.05">1</text>
<rect x="259.50" y="445.00" width="5.50" height="2.80" fill="#184a86"/>
<text transform="translate(267.50,448.80) scale(0.9091,1)" font-size="6.600" text-anchor="start" stroke="#231f20" stroke-width="0.14">MN-AITL</text>
<rect x="259.50" y="452.90" width="5.50" height="3.00" fill="#cf0a2c"/>
<text transform="translate(267.50,456.80) scale(0.9091,1)" font-size="6.600" text-anchor="start" stroke="#231f20" stroke-width="0.14">AITL-MN</text>
<text transform="translate(166.60,438.80)" font-size="6.000" text-anchor="middle" fill="#3a3a3a" stroke="#3a3a3a" stroke-width="0.1">ns</text>
<line x1="162.50" y1="440.90" x2="170.90" y2="440.90" stroke="#666" stroke-width="0.85"/>
<text transform="translate(185.60,469.60)" font-size="6.000" text-anchor="middle" fill="#3a3a3a" stroke="#3a3a3a" stroke-width="0.1">ns</text>
<line x1="181.50" y1="471.00" x2="189.50" y2="471.00" stroke="#666" stroke-width="0.85"/>
<text transform="translate(205.00,476.50)" font-size="6.000" text-anchor="middle" fill="#3a3a3a" stroke="#3a3a3a" stroke-width="0.1">ns</text>
<line x1="201.00" y1="477.90" x2="209.00" y2="477.90" stroke="#666" stroke-width="0.85"/>
<text transform="translate(224.60,484.90)" font-size="6.000" text-anchor="middle" fill="#3a3a3a" stroke="#3a3a3a" stroke-width="0.1">ns</text>
<line x1="220.50" y1="486.80" x2="228.70" y2="486.80" stroke="#666" stroke-width="0.85"/>
<text transform="translate(245.50,482.10)" font-size="6.000" text-anchor="middle" fill="#3a3a3a" stroke="#3a3a3a" stroke-width="0.1">ns</text>
<polyline points="242.80,496.00 242.80,484.00 248.00,484.00 248.00,487.70" fill="none" stroke="#666" stroke-width="0.85"/>
<text transform="translate(263.80,491.90)" font-size="6.000" text-anchor="middle" fill="#3a3a3a" stroke="#3a3a3a" stroke-width="0.1">ns</text>
<line x1="260.00" y1="493.20" x2="267.70" y2="493.20" stroke="#666" stroke-width="0.85"/>
<text transform="translate(281.40,494.60)" font-size="6.000" text-anchor="middle" fill="#3a3a3a" stroke="#3a3a3a" stroke-width="0.1">ns</text>
<line x1="277.70" y1="496.90" x2="285.30" y2="496.90" stroke="#666" stroke-width="0.85"/>
<text transform="translate(136.10,473.00) rotate(-90) scale(0.8000,1)" font-size="7.750" text-anchor="middle" stroke="#231f20" stroke-width="0.24" textLength="85.00" lengthAdjust="spacingAndGlyphs">Percentage of patients (%)</text>
<text transform="translate(169.30,514.10) rotate(-45) scale(0.7576,1)" font-size="7.788" text-anchor="end" font-style="italic" stroke="#231f20" stroke-width="0.06">TET2</text>
<text transform="translate(188.50,514.10) rotate(-45) scale(0.7576,1)" font-size="7.788" text-anchor="end" font-style="italic" stroke="#231f20" stroke-width="0.06">DNMT3A</text>
<text transform="translate(208.00,514.10) rotate(-45) scale(0.7576,1)" font-size="7.788" text-anchor="end" font-style="italic" stroke="#231f20" stroke-width="0.06">JAK2</text>
<text transform="translate(227.50,514.10) rotate(-45) scale(0.7576,1)" font-size="7.788" text-anchor="end" font-style="italic" stroke="#231f20" stroke-width="0.06">SRSF2</text>
<text transform="translate(250.30,514.10) rotate(-45) scale(0.7576,1)" font-size="7.788" text-anchor="end" font-style="italic" stroke="#231f20" stroke-width="0.06">ASXL1</text>
<text transform="translate(266.20,514.10) rotate(-45) scale(0.7576,1)" font-size="7.788" text-anchor="end" font-style="italic" stroke="#231f20" stroke-width="0.06">RUNX1</text>
<text transform="translate(281.90,514.10) rotate(-45) scale(0.7576,1)" font-size="7.788" text-anchor="end" font-style="italic" stroke="#231f20" stroke-width="0.06">TP53</text>
<text transform="translate(302.50,424.40)" font-size="10.500" text-anchor="start" font-weight="bold" fill="#000">O</text>
<text transform="translate(355.30,432.40) scale(0.8696,1)" font-size="9.200" text-anchor="middle" stroke="#231f20" stroke-width="0.2">Comparison of VAFs</text>
<text transform="translate(354.80,441.40) scale(0.8696,1)" font-size="9.200" text-anchor="middle" stroke="#231f20" stroke-width="0.2">in MN</text>
<line x1="332.00" y1="440.00" x2="332.00" y2="505.55" stroke="#333" stroke-width="1.25"/>
<line x1="329.00" y1="441.60" x2="332.00" y2="441.60" stroke="#333" stroke-width="0.9"/>
<text transform="translate(326.80,443.80)" font-size="6.200" text-anchor="end" stroke="#231f20" stroke-width="0.14">100</text>
<line x1="329.00" y1="454.28" x2="332.00" y2="454.28" stroke="#333" stroke-width="0.9"/>
<text transform="translate(326.80,456.48)" font-size="6.200" text-anchor="end" stroke="#231f20" stroke-width="0.14">80</text>
<line x1="329.00" y1="466.96" x2="332.00" y2="466.96" stroke="#333" stroke-width="0.9"/>
<text transform="translate(326.80,469.16)" font-size="6.200" text-anchor="end" stroke="#231f20" stroke-width="0.14">60</text>
<line x1="329.00" y1="479.64" x2="332.00" y2="479.64" stroke="#333" stroke-width="0.9"/>
<text transform="translate(326.80,481.84)" font-size="6.200" text-anchor="end" stroke="#231f20" stroke-width="0.14">40</text>
<line x1="329.00" y1="492.32" x2="332.00" y2="492.32" stroke="#333" stroke-width="0.9"/>
<text transform="translate(326.80,494.52)" font-size="6.200" text-anchor="end" stroke="#231f20" stroke-width="0.14">20</text>
<line x1="329.00" y1="505.00" x2="332.00" y2="505.00" stroke="#333" stroke-width="0.9"/>
<text transform="translate(326.80,507.20)" font-size="6.200" text-anchor="end" stroke="#231f20" stroke-width="0.14">0</text>
<line x1="331.45" y1="505.00" x2="379.40" y2="505.00" stroke="#333" stroke-width="1.25"/>
<line x1="342.20" y1="505.00" x2="342.20" y2="507.40" stroke="#333" stroke-width="0.9"/>
<line x1="357.50" y1="505.00" x2="357.50" y2="507.40" stroke="#333" stroke-width="0.9"/>
<line x1="372.90" y1="505.00" x2="372.90" y2="507.40" stroke="#333" stroke-width="0.9"/>
<polyline points="342.20,455.20 357.50,481.90" fill="none" stroke="#2a2020" stroke-width="0.85"/>
<polyline points="342.20,476.00 357.50,448.50" fill="none" stroke="#9a2030" stroke-width="0.85"/>
<polyline points="342.20,472.60 357.50,454.40" fill="none" stroke="#9a2030" stroke-width="0.85"/>
<polyline points="342.20,474.80 357.50,473.00 372.90,476.50" fill="none" stroke="#b03040" stroke-width="0.85"/>
<polyline points="342.20,479.50 357.50,481.90" fill="none" stroke="#c03040" stroke-width="0.85"/>
<polyline points="342.20,478.90 357.50,478.50 372.90,476.50" fill="none" stroke="#3a8a7a" stroke-width="0.85"/>
<polyline points="342.20,486.00 357.50,503.20 372.90,476.50" fill="none" stroke="#2a2020" stroke-width="0.85"/>
<polyline points="342.20,482.50 357.50,499.60 372.90,486.60" fill="none" stroke="#2a2020" stroke-width="0.85"/>
<circle cx="342.20" cy="455.20" r="0.95" fill="#1d4577"/>
<circle cx="342.20" cy="471.20" r="0.95" fill="#1d4577"/>
<circle cx="342.20" cy="473.00" r="0.95" fill="#1d4577"/>
<circle cx="342.20" cy="474.80" r="0.95" fill="#1d4577"/>
<circle cx="342.20" cy="478.90" r="0.95" fill="#1d4577"/>
<circle cx="342.20" cy="479.50" r="0.95" fill="#1d4577"/>
<circle cx="342.20" cy="482.50" r="0.95" fill="#1d4577"/>
<circle cx="342.20" cy="486.00" r="0.95" fill="#1d4577"/>
<circle cx="357.50" cy="448.50" r="0.95" fill="#c8102e"/>
<circle cx="357.50" cy="454.40" r="0.95" fill="#c8102e"/>
<circle cx="357.50" cy="481.90" r="0.95" fill="#c8102e"/>
<circle cx="357.50" cy="473.00" r="0.95" fill="#231f20"/>
<circle cx="357.50" cy="499.60" r="0.95" fill="#231f20"/>
<circle cx="357.50" cy="503.20" r="0.95" fill="#231f20"/>
<circle cx="372.90" cy="486.60" r="0.95" fill="#231f20"/>
<circle cx="372.90" cy="476.50" r="1.3" fill="#2a5a5a"/>
<text transform="translate(360.30,450.10)" font-size="4.600" text-anchor="start" fill="#3aa04a">#6</text>
<text transform="translate(360.30,456.00)" font-size="4.600" text-anchor="start" fill="#3aa04a">#7</text>
<text transform="translate(360.30,473.60)" font-size="4.600" text-anchor="start" fill="#3aa04a">#5</text>
<text transform="translate(359.00,479.90)" font-size="4.600" text-anchor="start" fill="#3aa04a">#8</text>
<text transform="translate(359.00,486.40)" font-size="4.600" text-anchor="start" fill="#3aa04a">#15</text>
<text transform="translate(360.30,500.60)" font-size="4.600" text-anchor="start" fill="#3aa04a">#3</text>
<text transform="translate(360.30,505.40)" font-size="4.600" text-anchor="start" fill="#3aa04a">#24</text>
<text transform="translate(310.30,473.10) rotate(-90) scale(0.8000,1)" font-size="7.750" text-anchor="middle" stroke="#231f20" stroke-width="0.24" textLength="29.38" lengthAdjust="spacingAndGlyphs">VAFs (%)</text>
<text transform="translate(344.20,515.00) rotate(-45) scale(0.7576,1)" font-size="8.052" text-anchor="end" font-style="italic" stroke="#231f20" stroke-width="0.06">TET2</text>
<text transform="translate(359.50,515.00) rotate(-45) scale(0.7576,1)" font-size="8.052" text-anchor="end" font-style="italic" stroke="#231f20" stroke-width="0.06">JAK2</text>
<text transform="translate(374.90,515.00) rotate(-45) scale(0.7576,1)" font-size="8.052" text-anchor="end" font-style="italic" stroke="#231f20" stroke-width="0.06">DNMT3A</text>
<text transform="translate(402.80,423.80)" font-size="10.500" text-anchor="start" font-weight="bold" fill="#000">P</text>
<text transform="translate(466.90,432.00) scale(0.8696,1)" font-size="9.200" text-anchor="middle" stroke="#231f20" stroke-width="0.2">Overall survival</text>
<line x1="431.60" y1="441.50" x2="431.60" y2="505.85" stroke="#333" stroke-width="1.25"/>
<line x1="428.60" y1="443.10" x2="431.60" y2="443.10" stroke="#333" stroke-width="0.9"/>
<text transform="translate(426.10,445.30)" font-size="6.200" text-anchor="end" stroke="#231f20" stroke-width="0.14">100</text>
<line x1="428.60" y1="458.65" x2="431.60" y2="458.65" stroke="#333" stroke-width="0.9"/>
<text transform="translate(426.10,460.85)" font-size="6.200" text-anchor="end" stroke="#231f20" stroke-width="0.14">75</text>
<line x1="428.60" y1="474.20" x2="431.60" y2="474.20" stroke="#333" stroke-width="0.9"/>
<text transform="translate(426.10,476.40)" font-size="6.200" text-anchor="end" stroke="#231f20" stroke-width="0.14">50</text>
<line x1="428.60" y1="489.75" x2="431.60" y2="489.75" stroke="#333" stroke-width="0.9"/>
<text transform="translate(426.10,491.95)" font-size="6.200" text-anchor="end" stroke="#231f20" stroke-width="0.14">25</text>
<line x1="428.60" y1="505.30" x2="431.60" y2="505.30" stroke="#333" stroke-width="0.9"/>
<text transform="translate(426.10,507.50)" font-size="6.200" text-anchor="end" stroke="#231f20" stroke-width="0.14">0</text>
<line x1="431.05" y1="505.30" x2="508.60" y2="505.30" stroke="#333" stroke-width="1.25"/>
<line x1="431.60" y1="505.30" x2="431.60" y2="507.70" stroke="#333" stroke-width="0.9"/>
<line x1="456.35" y1="505.30" x2="456.35" y2="507.70" stroke="#333" stroke-width="0.9"/>
<line x1="481.10" y1="505.30" x2="481.10" y2="507.70" stroke="#333" stroke-width="0.9"/>
<line x1="505.85" y1="505.30" x2="505.85" y2="507.70" stroke="#333" stroke-width="0.9"/>
<text transform="translate(431.60,516.80)" font-size="6.200" text-anchor="middle" stroke="#231f20" stroke-width="0.08">0</text>
<text transform="translate(456.35,516.80)" font-size="6.200" text-anchor="middle" stroke="#231f20" stroke-width="0.08">5</text>
<text transform="translate(481.10,516.80)" font-size="6.200" text-anchor="middle" stroke="#231f20" stroke-width="0.08">10</text>
<text transform="translate(505.85,516.80)" font-size="6.200" text-anchor="middle" stroke="#231f20" stroke-width="0.08">15</text>
<text transform="translate(469.90,528.20) scale(0.7692,1)" font-size="8.060" text-anchor="middle" stroke="#231f20" stroke-width="0.14" textLength="16.51" lengthAdjust="spacingAndGlyphs">Years</text>
<polyline points="431.60,443.40 438.40,443.40 438.40,461.30 449.40,461.30 449.40,469.70 451.30,469.70 451.30,478.80 455.20,478.80 455.20,487.20 456.20,487.20 456.20,496.20 476.50,496.20 476.50,505.30" fill="none" stroke="#d0305a" stroke-width="1.1"/>
<polyline points="431.60,449.70 446.80,449.70 446.80,456.40 458.00,456.40 458.00,464.50 469.20,464.50 469.20,474.90 485.20,474.90 485.20,495.20 490.70,495.20" fill="none" stroke="#3c72a8" stroke-width="1.1"/>
<line x1="434.50" y1="448.40" x2="434.50" y2="451.00" stroke="#3c72a8" stroke-width="0.8"/>
<line x1="467.50" y1="463.20" x2="467.50" y2="465.80" stroke="#3c72a8" stroke-width="0.8"/>
<line x1="490.70" y1="493.90" x2="490.70" y2="496.50" stroke="#3c72a8" stroke-width="0.8"/>
<line x1="481.10" y1="443.80" x2="486.90" y2="443.80" stroke="#3c72a8" stroke-width="1.1"/>
<line x1="484.00" y1="442.50" x2="484.00" y2="445.10" stroke="#3c72a8" stroke-width="0.7"/>
<text transform="translate(489.20,446.00) scale(0.9091,1)" font-size="6.600" text-anchor="start" stroke="#231f20" stroke-width="0.08">MN-AITL</text>
<line x1="481.10" y1="451.80" x2="486.90" y2="451.80" stroke="#d0305a" stroke-width="1.1"/>
<line x1="484.00" y1="450.50" x2="484.00" y2="453.10" stroke="#d0305a" stroke-width="0.7"/>
<text transform="translate(489.20,454.00) scale(0.9091,1)" font-size="6.600" text-anchor="start" stroke="#231f20" stroke-width="0.08">AITL-MN</text>
<text transform="translate(474.2,466.6) scale(0.909,1)" font-size="6.6" stroke="#231f20" stroke-width="0.08">log-rank <tspan font-style="italic">P</tspan>: .03</text>
<text transform="translate(410.10,473.20) rotate(-90) scale(0.8000,1)" font-size="7.750" text-anchor="middle" stroke="#231f20" stroke-width="0.24" textLength="66.25" lengthAdjust="spacingAndGlyphs">Probability of survival</text>
</g>
<rect x="0.5" y="0.5" width="519" height="540" fill="none" stroke="#6b6b6b" stroke-width="1"/>
</svg>
</body></html>
